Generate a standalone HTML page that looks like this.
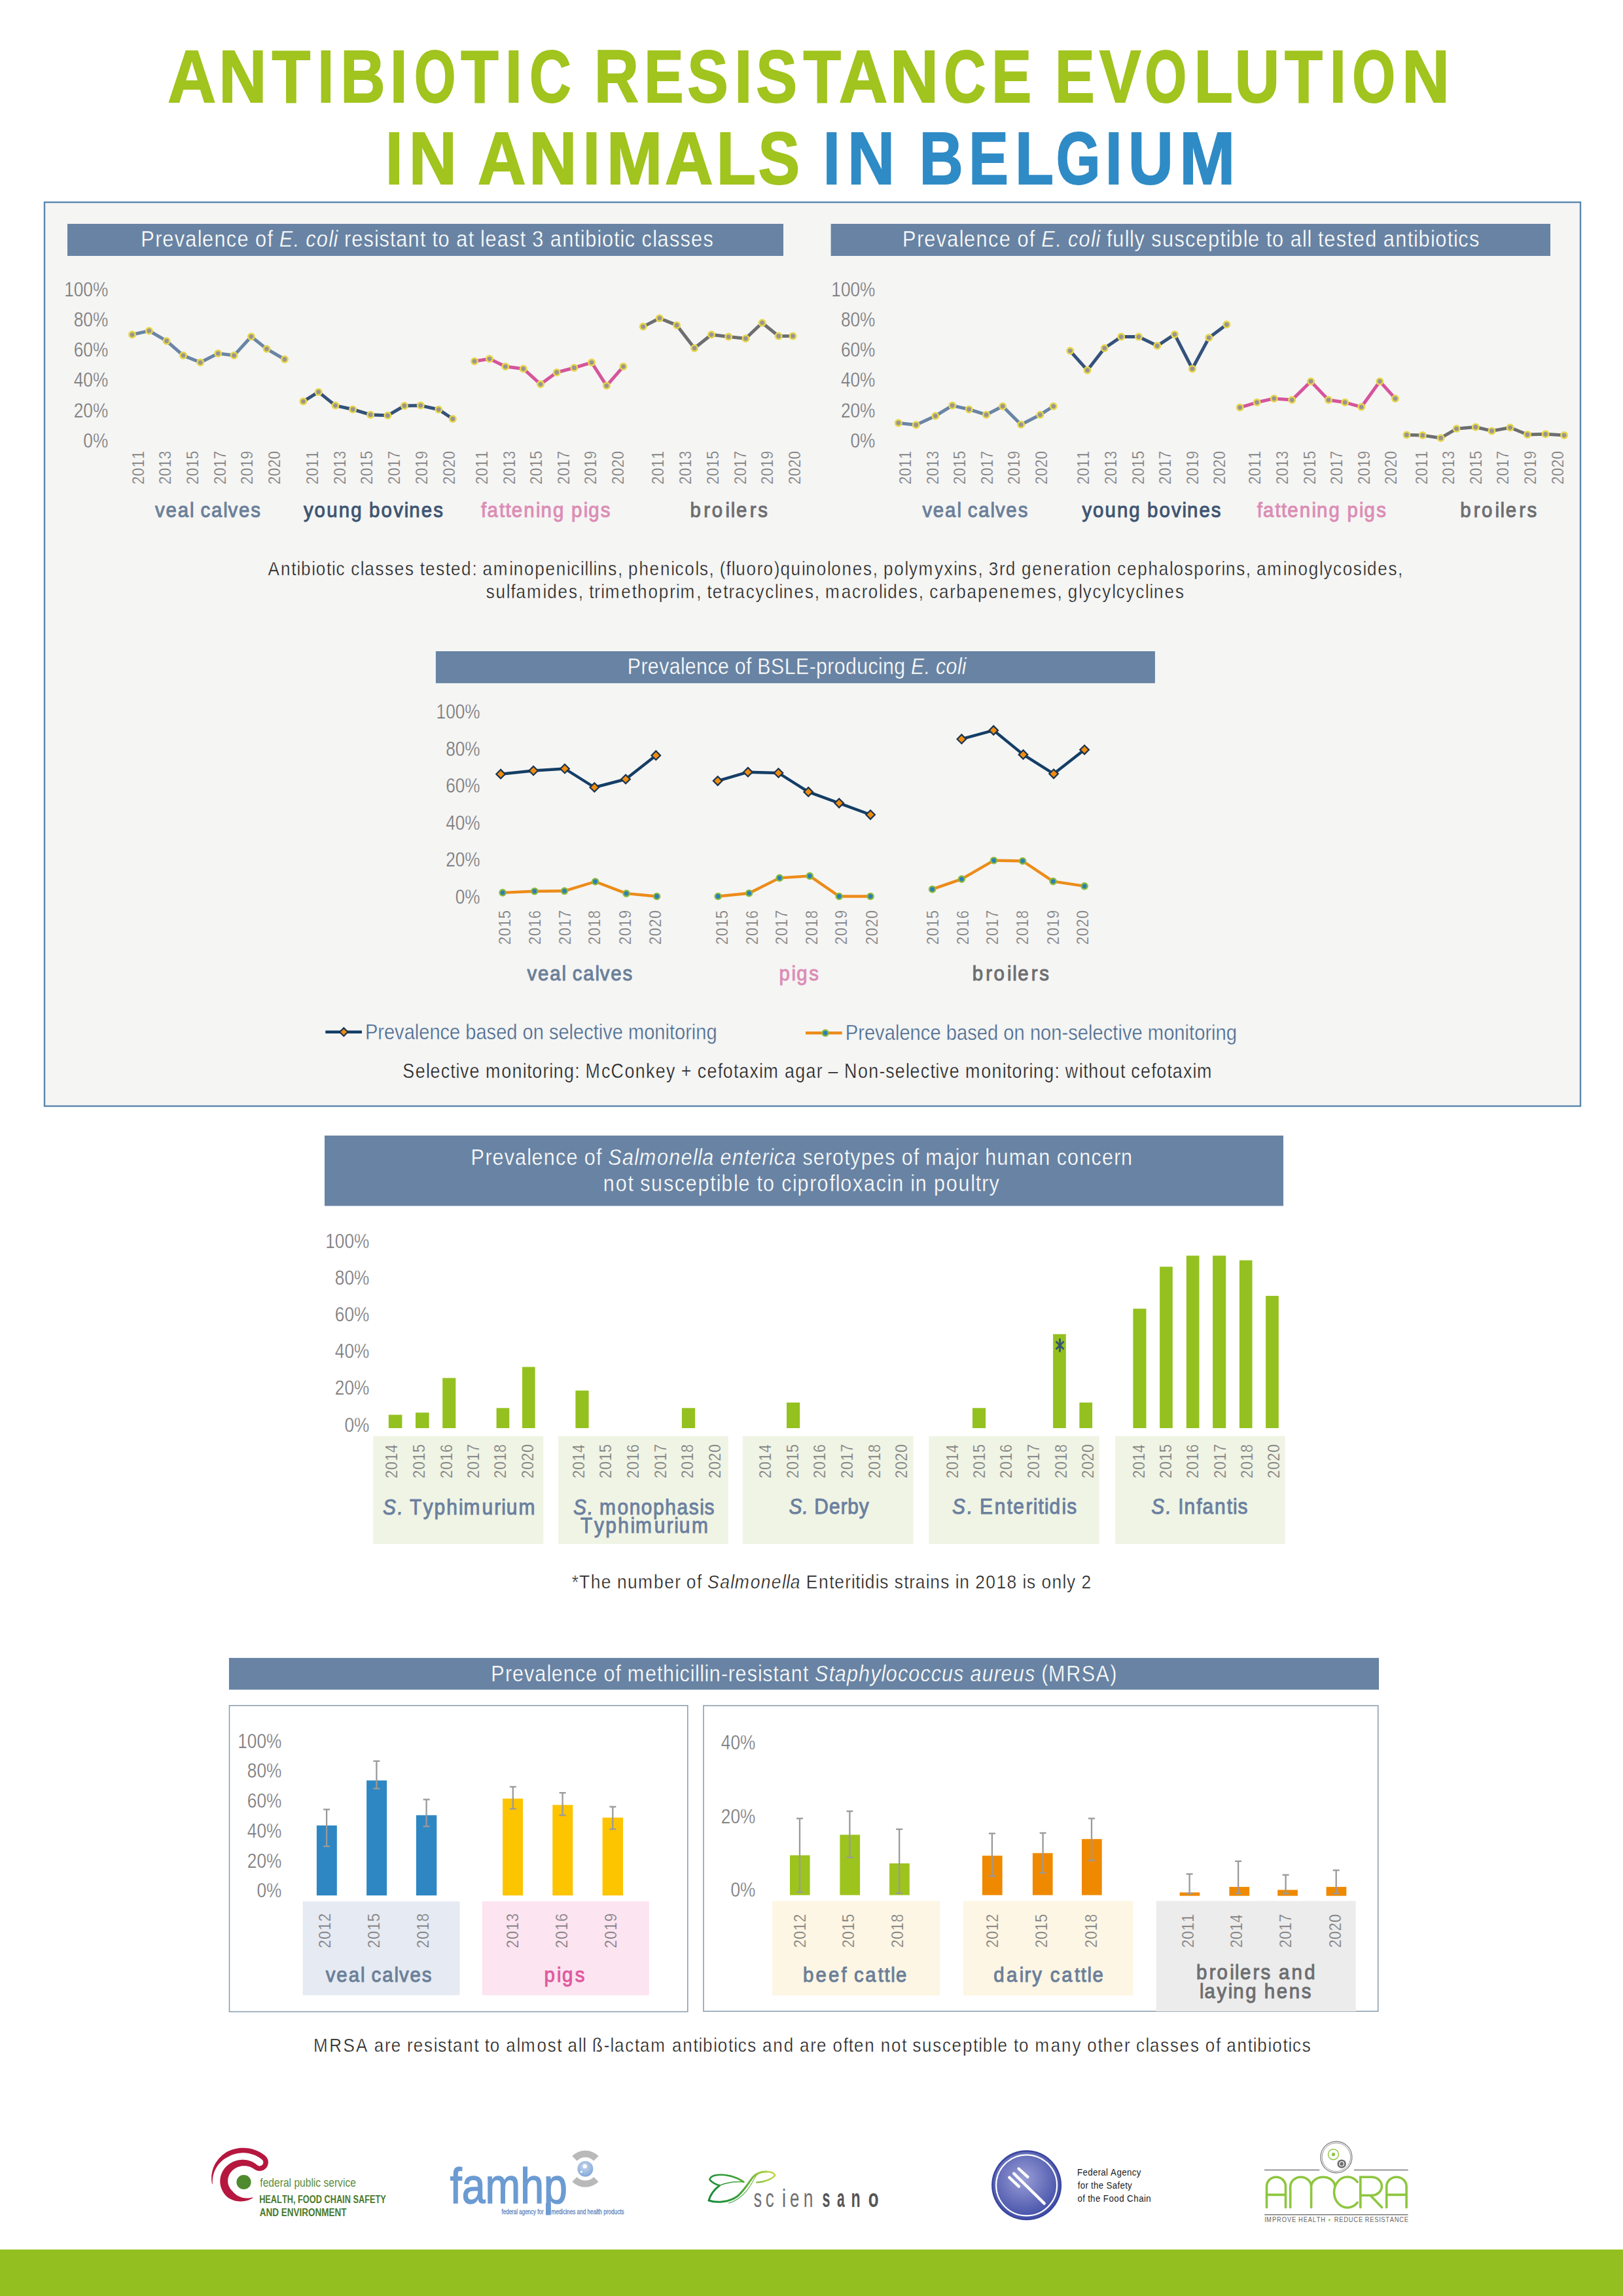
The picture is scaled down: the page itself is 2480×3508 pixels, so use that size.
<!DOCTYPE html>
<html><head><meta charset="utf-8"><title>Antibiotic resistance evolution in animals in Belgium</title>
<style>
html,body{margin:0;padding:0;background:#ffffff;}
body{width:2480px;height:3508px;overflow:hidden;}
svg{display:block;font-family:"Liberation Sans",sans-serif;}
</style></head><body>
<svg width="2480" height="3508" viewBox="0 0 2480 3508">
<text transform="scale(0.9052 1)" y="155.90" font-size="112.79" fill="#a1c41e" stroke="#a1c41e" stroke-width="2.00"><tspan font-weight="bold" x="283.19">A</tspan></text>
<text transform="scale(0.8988 1)" y="155.90" font-size="112.79" fill="#a1c41e" stroke="#a1c41e" stroke-width="2.00"><tspan font-weight="bold" x="371.84">N</tspan></text>
<text transform="scale(0.8537 1)" y="155.90" font-size="112.79" fill="#a1c41e" stroke="#a1c41e" stroke-width="2.00"><tspan font-weight="bold" x="486.74">T</tspan></text>
<text transform="scale(0.7879 1)" y="155.90" font-size="112.79" fill="#a1c41e" stroke="#a1c41e" stroke-width="2.00"><tspan font-weight="bold" x="616.05">I</tspan></text>
<text transform="scale(0.8388 1)" y="155.90" font-size="112.79" fill="#a1c41e" stroke="#a1c41e" stroke-width="2.00"><tspan font-weight="bold" x="620.12">B</tspan></text>
<text transform="scale(0.8617 1)" y="155.90" font-size="112.79" fill="#a1c41e" stroke="#a1c41e" stroke-width="2.00"><tspan font-weight="bold" x="691.30">I</tspan></text>
<text transform="scale(0.7222 1)" y="155.90" font-size="112.79" fill="#a1c41e" stroke="#a1c41e" stroke-width="2.00"><tspan font-weight="bold" x="876.41">O</tspan></text>
<text transform="scale(0.8341 1)" y="155.90" font-size="112.79" fill="#a1c41e" stroke="#a1c41e" stroke-width="2.00"><tspan font-weight="bold" x="844.31">T</tspan></text>
<text transform="scale(0.8186 1)" y="155.90" font-size="112.79" fill="#a1c41e" stroke="#a1c41e" stroke-width="2.00"><tspan font-weight="bold" x="943.07">I</tspan></text>
<text transform="scale(0.7824 1)" y="155.90" font-size="112.79" fill="#a1c41e" stroke="#a1c41e" stroke-width="2.00"><tspan font-weight="bold" x="1034.05">C</tspan></text>
<text transform="scale(0.8325 1)" y="155.90" font-size="112.79" fill="#a1c41e" stroke="#a1c41e" stroke-width="2.00"><tspan font-weight="bold" x="1090.78">R</tspan></text>
<text transform="scale(0.8012 1)" y="155.90" font-size="112.79" fill="#a1c41e" stroke="#a1c41e" stroke-width="2.00"><tspan font-weight="bold" x="1228.59">E</tspan></text>
<text transform="scale(0.8302 1)" y="155.90" font-size="112.79" fill="#a1c41e" stroke="#a1c41e" stroke-width="2.00"><tspan font-weight="bold" x="1265.14">S</tspan></text>
<text transform="scale(0.8617 1)" y="155.90" font-size="112.79" fill="#a1c41e" stroke="#a1c41e" stroke-width="2.00"><tspan font-weight="bold" x="1302.52">I</tspan></text>
<text transform="scale(0.8346 1)" y="155.90" font-size="112.79" fill="#a1c41e" stroke="#a1c41e" stroke-width="2.00"><tspan font-weight="bold" x="1384.20">S</tspan></text>
<text transform="scale(0.8341 1)" y="155.90" font-size="112.79" fill="#a1c41e" stroke="#a1c41e" stroke-width="2.00"><tspan font-weight="bold" x="1471.81">T</tspan></text>
<text transform="scale(0.9118 1)" y="155.90" font-size="112.79" fill="#a1c41e" stroke="#a1c41e" stroke-width="2.00"><tspan font-weight="bold" x="1405.99">A</tspan></text>
<text transform="scale(0.9094 1)" y="155.90" font-size="112.79" fill="#a1c41e" stroke="#a1c41e" stroke-width="2.00"><tspan font-weight="bold" x="1495.56">N</tspan></text>
<text transform="scale(0.7919 1)" y="155.90" font-size="112.79" fill="#a1c41e" stroke="#a1c41e" stroke-width="2.00"><tspan font-weight="bold" x="1820.90">C</tspan></text>
<text transform="scale(0.8091 1)" y="155.90" font-size="112.79" fill="#a1c41e" stroke="#a1c41e" stroke-width="2.00"><tspan font-weight="bold" x="1872.80">E</tspan></text>
<text transform="scale(0.8059 1)" y="155.90" font-size="112.79" fill="#a1c41e" stroke="#a1c41e" stroke-width="2.00"><tspan font-weight="bold" x="2000.40">E</tspan></text>
<text transform="scale(0.8427 1)" y="155.90" font-size="112.79" fill="#a1c41e" stroke="#a1c41e" stroke-width="2.00"><tspan font-weight="bold" x="1993.56">V</tspan></text>
<text transform="scale(0.7286 1)" y="155.90" font-size="112.79" fill="#a1c41e" stroke="#a1c41e" stroke-width="2.00"><tspan font-weight="bold" x="2400.95">O</tspan></text>
<text transform="scale(0.8604 1)" y="155.90" font-size="112.79" fill="#a1c41e" stroke="#a1c41e" stroke-width="2.00"><tspan font-weight="bold" x="2120.62">L</tspan></text>
<text transform="scale(0.8393 1)" y="155.90" font-size="112.79" fill="#a1c41e" stroke="#a1c41e" stroke-width="2.00"><tspan font-weight="bold" x="2247.99">U</tspan></text>
<text transform="scale(0.8416 1)" y="155.90" font-size="112.79" fill="#a1c41e" stroke="#a1c41e" stroke-width="2.00"><tspan font-weight="bold" x="2332.42">T</tspan></text>
<text transform="scale(0.7879 1)" y="155.90" font-size="112.79" fill="#a1c41e" stroke="#a1c41e" stroke-width="2.00"><tspan font-weight="bold" x="2578.98">I</tspan></text>
<text transform="scale(0.7503 1)" y="155.90" font-size="112.79" fill="#a1c41e" stroke="#a1c41e" stroke-width="2.00"><tspan font-weight="bold" x="2753.77">O</tspan></text>
<text transform="scale(0.8928 1)" y="155.90" font-size="112.79" fill="#a1c41e" stroke="#a1c41e" stroke-width="2.00"><tspan font-weight="bold" x="2399.39">N</tspan></text>
<text transform="scale(0.8494 1)" y="280.80" font-size="112.79" fill="#a1c41e" stroke="#a1c41e" stroke-width="2.00"><tspan font-weight="bold" x="693.30">I</tspan></text>
<text transform="scale(0.8988 1)" y="280.80" font-size="112.79" fill="#a1c41e" stroke="#a1c41e" stroke-width="2.00"><tspan font-weight="bold" x="695.04">N</tspan></text>
<text transform="scale(0.9013 1)" y="280.80" font-size="112.79" fill="#a1c41e" stroke="#a1c41e" stroke-width="2.00"><tspan font-weight="bold" x="810.05">A</tspan></text>
<text transform="scale(0.8988 1)" y="280.80" font-size="112.79" fill="#a1c41e" stroke="#a1c41e" stroke-width="2.00"><tspan font-weight="bold" x="899.30">N</tspan></text>
<text transform="scale(0.8309 1)" y="280.80" font-size="112.79" fill="#a1c41e" stroke="#a1c41e" stroke-width="2.00"><tspan font-weight="bold" x="1071.96">I</tspan></text>
<text transform="scale(0.9066 1)" y="280.80" font-size="112.79" fill="#a1c41e" stroke="#a1c41e" stroke-width="2.00"><tspan font-weight="bold" x="1022.45">M</tspan></text>
<text transform="scale(0.9013 1)" y="280.80" font-size="112.79" fill="#a1c41e" stroke="#a1c41e" stroke-width="2.00"><tspan font-weight="bold" x="1127.15">A</tspan></text>
<text transform="scale(0.8725 1)" y="280.80" font-size="112.79" fill="#a1c41e" stroke="#a1c41e" stroke-width="2.00"><tspan font-weight="bold" x="1254.86">L</tspan></text>
<text transform="scale(0.8450 1)" y="280.80" font-size="112.79" fill="#a1c41e" stroke="#a1c41e" stroke-width="2.00"><tspan font-weight="bold" x="1371.10">S</tspan></text>
<text transform="scale(0.8309 1)" y="280.80" font-size="112.79" fill="#2f8bc5" stroke="#2f8bc5" stroke-width="2.00"><tspan font-weight="bold" x="1513.75">I</tspan></text>
<text transform="scale(0.8868 1)" y="280.80" font-size="112.79" fill="#2f8bc5" stroke="#2f8bc5" stroke-width="2.00"><tspan font-weight="bold" x="1460.38">N</tspan></text>
<text transform="scale(0.8214 1)" y="280.80" font-size="112.79" fill="#2f8bc5" stroke="#2f8bc5" stroke-width="2.00"><tspan font-weight="bold" x="1710.06">B</tspan></text>
<text transform="scale(0.8059 1)" y="280.80" font-size="112.79" fill="#2f8bc5" stroke="#2f8bc5" stroke-width="2.00"><tspan font-weight="bold" x="1836.87">E</tspan></text>
<text transform="scale(0.8569 1)" y="280.80" font-size="112.79" fill="#2f8bc5" stroke="#2f8bc5" stroke-width="2.00"><tspan font-weight="bold" x="1810.15">L</tspan></text>
<text transform="scale(0.7712 1)" y="280.80" font-size="112.79" fill="#2f8bc5" stroke="#2f8bc5" stroke-width="2.00"><tspan font-weight="bold" x="2092.40">G</tspan></text>
<text transform="scale(0.8186 1)" y="280.80" font-size="112.79" fill="#2f8bc5" stroke="#2f8bc5" stroke-width="2.00"><tspan font-weight="bold" x="2063.24">I</tspan></text>
<text transform="scale(0.8437 1)" y="280.80" font-size="112.79" fill="#2f8bc5" stroke="#2f8bc5" stroke-width="2.00"><tspan font-weight="bold" x="2043.33">U</tspan></text>
<text transform="scale(0.9053 1)" y="280.80" font-size="112.79" fill="#2f8bc5" stroke="#2f8bc5" stroke-width="2.00"><tspan font-weight="bold" x="1990.71">M</tspan></text>
<rect x="68" y="309" width="2347" height="1381" fill="#f5f5f4" stroke="#5a87ae" stroke-width="2.4"/>
<rect x="103.00" y="342.00" width="1094.00" height="49.00" fill="#6883a3"/>
<text transform="scale(0.8800 1)" y="376.90" font-size="34.90" fill="#ffffff" stroke="#6883a3" stroke-width="0.40"><tspan x="244.52 269.61 282.14 303.06 321.87 342.79 351.15 372.07 392.99 411.80 432.72 443.17 464.09 474.54">Prevalence of </tspan><tspan font-style="italic" x="484.99 510.08 520.54 530.99 549.80 570.72 579.07">E. coli</tspan><tspan x="587.43 597.88 610.41 631.33 650.14 658.50 677.30 687.76 708.68 729.60 740.05 750.50 760.95 781.87 792.32 813.24 823.69 834.15 842.50 863.42 884.34 903.15 913.60 924.06 944.98 955.43 976.35 997.27 1007.72 1016.08 1037.00 1045.36 1066.28 1076.73 1085.09 1103.89 1114.35 1133.15 1141.51 1162.43 1181.24 1200.05 1220.97"> resistant to at least 3 antibiotic classes</tspan></text>
<rect x="1269.60" y="342.00" width="1099.40" height="49.00" fill="#6883a3"/>
<text transform="scale(0.8800 1)" y="376.90" font-size="34.90" fill="#ffffff" stroke="#6883a3" stroke-width="0.40"><tspan x="1567.02 1592.20 1604.77 1625.76 1644.64 1665.63 1674.02 1695.01 1716.01 1734.88 1755.87 1766.36 1787.35 1797.84">Prevalence of </tspan><tspan font-style="italic" x="1808.33 1833.51 1843.99 1854.48 1873.36 1894.35 1902.74">E. coli</tspan><tspan x="1911.12 1921.61 1932.10 1953.09 1961.48 1969.86 1988.74 1999.22 2018.10 2039.09 2057.97 2076.84 2097.83 2118.83 2129.31 2137.70 2158.69 2167.08 2188.07 2198.56 2209.05 2230.04 2240.53 2261.52 2269.91 2278.30 2288.78 2299.27 2320.27 2339.14 2349.63 2370.62 2391.61 2402.10 2423.10 2444.09 2454.58 2462.96 2483.96 2492.34 2513.34 2523.82 2532.21 2551.08"> fully susceptible to all tested antibiotics</tspan></text>
<text transform="scale(0.8600 1)" y="452.72" font-size="30.50" fill="#737375" stroke="#f5f5f4" stroke-width="0.40"><tspan x="114.13 131.09 148.05 165.01">100%</tspan></text>
<text transform="scale(0.8600 1)" y="498.92" font-size="30.50" fill="#737375" stroke="#f5f5f4" stroke-width="0.40"><tspan x="131.09 148.05 165.01">80%</tspan></text>
<text transform="scale(0.8600 1)" y="545.12" font-size="30.50" fill="#737375" stroke="#f5f5f4" stroke-width="0.40"><tspan x="131.09 148.05 165.01">60%</tspan></text>
<text transform="scale(0.8600 1)" y="591.32" font-size="30.50" fill="#737375" stroke="#f5f5f4" stroke-width="0.40"><tspan x="131.09 148.05 165.01">40%</tspan></text>
<text transform="scale(0.8600 1)" y="637.52" font-size="30.50" fill="#737375" stroke="#f5f5f4" stroke-width="0.40"><tspan x="131.09 148.05 165.01">20%</tspan></text>
<text transform="scale(0.8600 1)" y="683.72" font-size="30.50" fill="#737375" stroke="#f5f5f4" stroke-width="0.40"><tspan x="148.05 165.01">0%</tspan></text>
<text transform="scale(0.8600 1)" y="452.72" font-size="30.50" fill="#737375" stroke="#f5f5f4" stroke-width="0.40"><tspan x="1477.15 1494.11 1511.07 1528.04">100%</tspan></text>
<text transform="scale(0.8600 1)" y="498.92" font-size="30.50" fill="#737375" stroke="#f5f5f4" stroke-width="0.40"><tspan x="1494.11 1511.07 1528.04">80%</tspan></text>
<text transform="scale(0.8600 1)" y="545.12" font-size="30.50" fill="#737375" stroke="#f5f5f4" stroke-width="0.40"><tspan x="1494.11 1511.07 1528.04">60%</tspan></text>
<text transform="scale(0.8600 1)" y="591.32" font-size="30.50" fill="#737375" stroke="#f5f5f4" stroke-width="0.40"><tspan x="1494.11 1511.07 1528.04">40%</tspan></text>
<text transform="scale(0.8600 1)" y="637.52" font-size="30.50" fill="#737375" stroke="#f5f5f4" stroke-width="0.40"><tspan x="1494.11 1511.07 1528.04">20%</tspan></text>
<text transform="scale(0.8600 1)" y="683.72" font-size="30.50" fill="#737375" stroke="#f5f5f4" stroke-width="0.40"><tspan x="1511.07 1528.04">0%</tspan></text>
<text transform="translate(220.03 739.20) rotate(-90) scale(0.8800 1)" y="0.00" font-size="25.60" fill="#737375" stroke="#f5f5f4" stroke-width="0.40"><tspan x="-1.29 13.45 28.19 42.92">2011</tspan></text>
<text transform="translate(261.43 739.20) rotate(-90) scale(0.8800 1)" y="0.00" font-size="25.60" fill="#737375" stroke="#f5f5f4" stroke-width="0.40"><tspan x="-1.29 13.41 28.10 42.80">2013</tspan></text>
<text transform="translate(303.23 739.20) rotate(-90) scale(0.8800 1)" y="0.00" font-size="25.60" fill="#737375" stroke="#f5f5f4" stroke-width="0.40"><tspan x="-1.29 13.39 28.07 42.75">2015</tspan></text>
<text transform="translate(345.03 739.20) rotate(-90) scale(0.8800 1)" y="0.00" font-size="25.60" fill="#737375" stroke="#f5f5f4" stroke-width="0.40"><tspan x="-1.29 13.46 28.21 42.96">2017</tspan></text>
<text transform="translate(386.43 739.20) rotate(-90) scale(0.8800 1)" y="0.00" font-size="25.60" fill="#737375" stroke="#f5f5f4" stroke-width="0.40"><tspan x="-1.29 13.44 28.16 42.88">2019</tspan></text>
<text transform="translate(428.23 739.20) rotate(-90) scale(0.8800 1)" y="0.00" font-size="25.60" fill="#737375" stroke="#f5f5f4" stroke-width="0.40"><tspan x="-1.29 13.37 28.02 42.67">2020</tspan></text>
<text transform="translate(486.23 739.20) rotate(-90) scale(0.8800 1)" y="0.00" font-size="25.60" fill="#737375" stroke="#f5f5f4" stroke-width="0.40"><tspan x="-1.29 13.45 28.19 42.92">2011</tspan></text>
<text transform="translate(528.03 739.20) rotate(-90) scale(0.8800 1)" y="0.00" font-size="25.60" fill="#737375" stroke="#f5f5f4" stroke-width="0.40"><tspan x="-1.29 13.41 28.10 42.80">2013</tspan></text>
<text transform="translate(569.43 739.20) rotate(-90) scale(0.8800 1)" y="0.00" font-size="25.60" fill="#737375" stroke="#f5f5f4" stroke-width="0.40"><tspan x="-1.29 13.39 28.07 42.75">2015</tspan></text>
<text transform="translate(611.23 739.20) rotate(-90) scale(0.8800 1)" y="0.00" font-size="25.60" fill="#737375" stroke="#f5f5f4" stroke-width="0.40"><tspan x="-1.29 13.46 28.21 42.96">2017</tspan></text>
<text transform="translate(652.63 739.20) rotate(-90) scale(0.8800 1)" y="0.00" font-size="25.60" fill="#737375" stroke="#f5f5f4" stroke-width="0.40"><tspan x="-1.29 13.44 28.16 42.88">2019</tspan></text>
<text transform="translate(695.03 739.20) rotate(-90) scale(0.8800 1)" y="0.00" font-size="25.60" fill="#737375" stroke="#f5f5f4" stroke-width="0.40"><tspan x="-1.29 13.37 28.02 42.67">2020</tspan></text>
<text transform="translate(744.93 739.20) rotate(-90) scale(0.8800 1)" y="0.00" font-size="25.60" fill="#737375" stroke="#f5f5f4" stroke-width="0.40"><tspan x="-1.29 13.45 28.19 42.92">2011</tspan></text>
<text transform="translate(786.73 739.20) rotate(-90) scale(0.8800 1)" y="0.00" font-size="25.60" fill="#737375" stroke="#f5f5f4" stroke-width="0.40"><tspan x="-1.29 13.41 28.10 42.80">2013</tspan></text>
<text transform="translate(828.13 739.20) rotate(-90) scale(0.8800 1)" y="0.00" font-size="25.60" fill="#737375" stroke="#f5f5f4" stroke-width="0.40"><tspan x="-1.29 13.39 28.07 42.75">2015</tspan></text>
<text transform="translate(869.93 739.20) rotate(-90) scale(0.8800 1)" y="0.00" font-size="25.60" fill="#737375" stroke="#f5f5f4" stroke-width="0.40"><tspan x="-1.29 13.46 28.21 42.96">2017</tspan></text>
<text transform="translate(911.33 739.20) rotate(-90) scale(0.8800 1)" y="0.00" font-size="25.60" fill="#737375" stroke="#f5f5f4" stroke-width="0.40"><tspan x="-1.29 13.44 28.16 42.88">2019</tspan></text>
<text transform="translate(953.13 739.20) rotate(-90) scale(0.8800 1)" y="0.00" font-size="25.60" fill="#737375" stroke="#f5f5f4" stroke-width="0.40"><tspan x="-1.29 13.37 28.02 42.67">2020</tspan></text>
<text transform="translate(1013.73 739.20) rotate(-90) scale(0.8800 1)" y="0.00" font-size="25.60" fill="#737375" stroke="#f5f5f4" stroke-width="0.40"><tspan x="-1.29 13.45 28.19 42.92">2011</tspan></text>
<text transform="translate(1055.53 739.20) rotate(-90) scale(0.8800 1)" y="0.00" font-size="25.60" fill="#737375" stroke="#f5f5f4" stroke-width="0.40"><tspan x="-1.29 13.41 28.10 42.80">2013</tspan></text>
<text transform="translate(1098.03 739.20) rotate(-90) scale(0.8800 1)" y="0.00" font-size="25.60" fill="#737375" stroke="#f5f5f4" stroke-width="0.40"><tspan x="-1.29 13.39 28.07 42.75">2015</tspan></text>
<text transform="translate(1139.73 739.20) rotate(-90) scale(0.8800 1)" y="0.00" font-size="25.60" fill="#737375" stroke="#f5f5f4" stroke-width="0.40"><tspan x="-1.29 13.46 28.21 42.96">2017</tspan></text>
<text transform="translate(1181.13 739.20) rotate(-90) scale(0.8800 1)" y="0.00" font-size="25.60" fill="#737375" stroke="#f5f5f4" stroke-width="0.40"><tspan x="-1.29 13.44 28.16 42.88">2019</tspan></text>
<text transform="translate(1222.93 739.20) rotate(-90) scale(0.8800 1)" y="0.00" font-size="25.60" fill="#737375" stroke="#f5f5f4" stroke-width="0.40"><tspan x="-1.29 13.37 28.02 42.67">2020</tspan></text>
<text transform="translate(1391.93 739.20) rotate(-90) scale(0.8800 1)" y="0.00" font-size="25.60" fill="#737375" stroke="#f5f5f4" stroke-width="0.40"><tspan x="-1.29 13.45 28.19 42.92">2011</tspan></text>
<text transform="translate(1433.73 739.20) rotate(-90) scale(0.8800 1)" y="0.00" font-size="25.60" fill="#737375" stroke="#f5f5f4" stroke-width="0.40"><tspan x="-1.29 13.41 28.10 42.80">2013</tspan></text>
<text transform="translate(1475.13 739.20) rotate(-90) scale(0.8800 1)" y="0.00" font-size="25.60" fill="#737375" stroke="#f5f5f4" stroke-width="0.40"><tspan x="-1.29 13.39 28.07 42.75">2015</tspan></text>
<text transform="translate(1516.53 739.20) rotate(-90) scale(0.8800 1)" y="0.00" font-size="25.60" fill="#737375" stroke="#f5f5f4" stroke-width="0.40"><tspan x="-1.29 13.46 28.21 42.96">2017</tspan></text>
<text transform="translate(1558.33 739.20) rotate(-90) scale(0.8800 1)" y="0.00" font-size="25.60" fill="#737375" stroke="#f5f5f4" stroke-width="0.40"><tspan x="-1.29 13.44 28.16 42.88">2019</tspan></text>
<text transform="translate(1599.73 739.20) rotate(-90) scale(0.8800 1)" y="0.00" font-size="25.60" fill="#737375" stroke="#f5f5f4" stroke-width="0.40"><tspan x="-1.29 13.37 28.02 42.67">2020</tspan></text>
<text transform="translate(1664.43 739.20) rotate(-90) scale(0.8800 1)" y="0.00" font-size="25.60" fill="#737375" stroke="#f5f5f4" stroke-width="0.40"><tspan x="-1.29 13.45 28.19 42.92">2011</tspan></text>
<text transform="translate(1706.13 739.20) rotate(-90) scale(0.8800 1)" y="0.00" font-size="25.60" fill="#737375" stroke="#f5f5f4" stroke-width="0.40"><tspan x="-1.29 13.41 28.10 42.80">2013</tspan></text>
<text transform="translate(1747.53 739.20) rotate(-90) scale(0.8800 1)" y="0.00" font-size="25.60" fill="#737375" stroke="#f5f5f4" stroke-width="0.40"><tspan x="-1.29 13.39 28.07 42.75">2015</tspan></text>
<text transform="translate(1789.33 739.20) rotate(-90) scale(0.8800 1)" y="0.00" font-size="25.60" fill="#737375" stroke="#f5f5f4" stroke-width="0.40"><tspan x="-1.29 13.46 28.21 42.96">2017</tspan></text>
<text transform="translate(1830.73 739.20) rotate(-90) scale(0.8800 1)" y="0.00" font-size="25.60" fill="#737375" stroke="#f5f5f4" stroke-width="0.40"><tspan x="-1.29 13.44 28.16 42.88">2019</tspan></text>
<text transform="translate(1871.73 739.20) rotate(-90) scale(0.8800 1)" y="0.00" font-size="25.60" fill="#737375" stroke="#f5f5f4" stroke-width="0.40"><tspan x="-1.29 13.37 28.02 42.67">2020</tspan></text>
<text transform="translate(1925.73 739.20) rotate(-90) scale(0.8800 1)" y="0.00" font-size="25.60" fill="#737375" stroke="#f5f5f4" stroke-width="0.40"><tspan x="-1.29 13.45 28.19 42.92">2011</tspan></text>
<text transform="translate(1967.83 739.20) rotate(-90) scale(0.8800 1)" y="0.00" font-size="25.60" fill="#737375" stroke="#f5f5f4" stroke-width="0.40"><tspan x="-1.29 13.41 28.10 42.80">2013</tspan></text>
<text transform="translate(2009.63 739.20) rotate(-90) scale(0.8800 1)" y="0.00" font-size="25.60" fill="#737375" stroke="#f5f5f4" stroke-width="0.40"><tspan x="-1.29 13.39 28.07 42.75">2015</tspan></text>
<text transform="translate(2051.03 739.20) rotate(-90) scale(0.8800 1)" y="0.00" font-size="25.60" fill="#737375" stroke="#f5f5f4" stroke-width="0.40"><tspan x="-1.29 13.46 28.21 42.96">2017</tspan></text>
<text transform="translate(2092.83 739.20) rotate(-90) scale(0.8800 1)" y="0.00" font-size="25.60" fill="#737375" stroke="#f5f5f4" stroke-width="0.40"><tspan x="-1.29 13.44 28.16 42.88">2019</tspan></text>
<text transform="translate(2134.23 739.20) rotate(-90) scale(0.8800 1)" y="0.00" font-size="25.60" fill="#737375" stroke="#f5f5f4" stroke-width="0.40"><tspan x="-1.29 13.37 28.02 42.67">2020</tspan></text>
<text transform="translate(2180.83 739.20) rotate(-90) scale(0.8800 1)" y="0.00" font-size="25.60" fill="#737375" stroke="#f5f5f4" stroke-width="0.40"><tspan x="-1.29 13.45 28.19 42.92">2011</tspan></text>
<text transform="translate(2222.23 739.20) rotate(-90) scale(0.8800 1)" y="0.00" font-size="25.60" fill="#737375" stroke="#f5f5f4" stroke-width="0.40"><tspan x="-1.29 13.41 28.10 42.80">2013</tspan></text>
<text transform="translate(2263.63 739.20) rotate(-90) scale(0.8800 1)" y="0.00" font-size="25.60" fill="#737375" stroke="#f5f5f4" stroke-width="0.40"><tspan x="-1.29 13.39 28.07 42.75">2015</tspan></text>
<text transform="translate(2305.43 739.20) rotate(-90) scale(0.8800 1)" y="0.00" font-size="25.60" fill="#737375" stroke="#f5f5f4" stroke-width="0.40"><tspan x="-1.29 13.46 28.21 42.96">2017</tspan></text>
<text transform="translate(2347.13 739.20) rotate(-90) scale(0.8800 1)" y="0.00" font-size="25.60" fill="#737375" stroke="#f5f5f4" stroke-width="0.40"><tspan x="-1.29 13.44 28.16 42.88">2019</tspan></text>
<text transform="translate(2388.53 739.20) rotate(-90) scale(0.8800 1)" y="0.00" font-size="25.60" fill="#737375" stroke="#f5f5f4" stroke-width="0.40"><tspan x="-1.29 13.37 28.02 42.67">2020</tspan></text>
<polyline points="202.00,511.30 227.90,505.40 254.50,520.90 280.00,543.10 306.20,553.80 333.20,540.10 357.60,543.10 383.90,514.30 407.50,533.10 434.90,549.00" fill="none" stroke="#6a85a5" stroke-width="5.00" stroke-linejoin="round" stroke-linecap="round"/>
<circle cx="202.00" cy="511.30" r="4.70" fill="#9a9592" stroke="#e7d74a" stroke-width="2.60"/>
<circle cx="227.90" cy="505.40" r="4.70" fill="#9a9592" stroke="#e7d74a" stroke-width="2.60"/>
<circle cx="254.50" cy="520.90" r="4.70" fill="#9a9592" stroke="#e7d74a" stroke-width="2.60"/>
<circle cx="280.00" cy="543.10" r="4.70" fill="#9a9592" stroke="#e7d74a" stroke-width="2.60"/>
<circle cx="306.20" cy="553.80" r="4.70" fill="#9a9592" stroke="#e7d74a" stroke-width="2.60"/>
<circle cx="333.20" cy="540.10" r="4.70" fill="#9a9592" stroke="#e7d74a" stroke-width="2.60"/>
<circle cx="357.60" cy="543.10" r="4.70" fill="#9a9592" stroke="#e7d74a" stroke-width="2.60"/>
<circle cx="383.90" cy="514.30" r="4.70" fill="#9a9592" stroke="#e7d74a" stroke-width="2.60"/>
<circle cx="407.50" cy="533.10" r="4.70" fill="#9a9592" stroke="#e7d74a" stroke-width="2.60"/>
<circle cx="434.90" cy="549.00" r="4.70" fill="#9a9592" stroke="#e7d74a" stroke-width="2.60"/>
<polyline points="463.40,613.30 486.70,598.90 512.50,619.60 539.10,625.50 566.10,633.70 592.40,634.80 617.90,620.00 642.70,619.60 670.30,625.70 691.80,640.00" fill="none" stroke="#34527a" stroke-width="5.00" stroke-linejoin="round" stroke-linecap="round"/>
<circle cx="463.40" cy="613.30" r="4.70" fill="#9a9592" stroke="#e7d74a" stroke-width="2.60"/>
<circle cx="486.70" cy="598.90" r="4.70" fill="#9a9592" stroke="#e7d74a" stroke-width="2.60"/>
<circle cx="512.50" cy="619.60" r="4.70" fill="#9a9592" stroke="#e7d74a" stroke-width="2.60"/>
<circle cx="539.10" cy="625.50" r="4.70" fill="#9a9592" stroke="#e7d74a" stroke-width="2.60"/>
<circle cx="566.10" cy="633.70" r="4.70" fill="#9a9592" stroke="#e7d74a" stroke-width="2.60"/>
<circle cx="592.40" cy="634.80" r="4.70" fill="#9a9592" stroke="#e7d74a" stroke-width="2.60"/>
<circle cx="617.90" cy="620.00" r="4.70" fill="#9a9592" stroke="#e7d74a" stroke-width="2.60"/>
<circle cx="642.70" cy="619.60" r="4.70" fill="#9a9592" stroke="#e7d74a" stroke-width="2.60"/>
<circle cx="670.30" cy="625.70" r="4.70" fill="#9a9592" stroke="#e7d74a" stroke-width="2.60"/>
<circle cx="691.80" cy="640.00" r="4.70" fill="#9a9592" stroke="#e7d74a" stroke-width="2.60"/>
<polyline points="725.00,552.00 748.00,548.30 772.30,560.10 799.70,563.40 826.00,587.10 850.70,569.00 877.30,562.00 904.00,553.80 926.90,589.30 952.40,560.10" fill="none" stroke="#d5559b" stroke-width="5.00" stroke-linejoin="round" stroke-linecap="round"/>
<circle cx="725.00" cy="552.00" r="4.70" fill="#9a9592" stroke="#e7d74a" stroke-width="2.60"/>
<circle cx="748.00" cy="548.30" r="4.70" fill="#9a9592" stroke="#e7d74a" stroke-width="2.60"/>
<circle cx="772.30" cy="560.10" r="4.70" fill="#9a9592" stroke="#e7d74a" stroke-width="2.60"/>
<circle cx="799.70" cy="563.40" r="4.70" fill="#9a9592" stroke="#e7d74a" stroke-width="2.60"/>
<circle cx="826.00" cy="587.10" r="4.70" fill="#9a9592" stroke="#e7d74a" stroke-width="2.60"/>
<circle cx="850.70" cy="569.00" r="4.70" fill="#9a9592" stroke="#e7d74a" stroke-width="2.60"/>
<circle cx="877.30" cy="562.00" r="4.70" fill="#9a9592" stroke="#e7d74a" stroke-width="2.60"/>
<circle cx="904.00" cy="553.80" r="4.70" fill="#9a9592" stroke="#e7d74a" stroke-width="2.60"/>
<circle cx="926.90" cy="589.30" r="4.70" fill="#9a9592" stroke="#e7d74a" stroke-width="2.60"/>
<circle cx="952.40" cy="560.10" r="4.70" fill="#9a9592" stroke="#e7d74a" stroke-width="2.60"/>
<polyline points="982.70,499.10 1007.80,486.20 1034.10,496.90 1061.10,532.00 1087.00,511.30 1113.20,514.60 1139.40,517.20 1164.60,493.20 1189.70,513.50 1211.50,513.50" fill="none" stroke="#6d6e70" stroke-width="5.00" stroke-linejoin="round" stroke-linecap="round"/>
<circle cx="982.70" cy="499.10" r="4.70" fill="#9a9592" stroke="#e7d74a" stroke-width="2.60"/>
<circle cx="1007.80" cy="486.20" r="4.70" fill="#9a9592" stroke="#e7d74a" stroke-width="2.60"/>
<circle cx="1034.10" cy="496.90" r="4.70" fill="#9a9592" stroke="#e7d74a" stroke-width="2.60"/>
<circle cx="1061.10" cy="532.00" r="4.70" fill="#9a9592" stroke="#e7d74a" stroke-width="2.60"/>
<circle cx="1087.00" cy="511.30" r="4.70" fill="#9a9592" stroke="#e7d74a" stroke-width="2.60"/>
<circle cx="1113.20" cy="514.60" r="4.70" fill="#9a9592" stroke="#e7d74a" stroke-width="2.60"/>
<circle cx="1139.40" cy="517.20" r="4.70" fill="#9a9592" stroke="#e7d74a" stroke-width="2.60"/>
<circle cx="1164.60" cy="493.20" r="4.70" fill="#9a9592" stroke="#e7d74a" stroke-width="2.60"/>
<circle cx="1189.70" cy="513.50" r="4.70" fill="#9a9592" stroke="#e7d74a" stroke-width="2.60"/>
<circle cx="1211.50" cy="513.50" r="4.70" fill="#9a9592" stroke="#e7d74a" stroke-width="2.60"/>
<polyline points="1372.80,646.20 1399.70,649.20 1429.30,635.50 1455.20,619.60 1480.70,625.50 1507.00,633.70 1532.10,620.70 1560.20,648.80 1589.40,633.70 1609.70,620.70" fill="none" stroke="#6a85a5" stroke-width="5.00" stroke-linejoin="round" stroke-linecap="round"/>
<circle cx="1372.80" cy="646.20" r="4.70" fill="#9a9592" stroke="#e7d74a" stroke-width="2.60"/>
<circle cx="1399.70" cy="649.20" r="4.70" fill="#9a9592" stroke="#e7d74a" stroke-width="2.60"/>
<circle cx="1429.30" cy="635.50" r="4.70" fill="#9a9592" stroke="#e7d74a" stroke-width="2.60"/>
<circle cx="1455.20" cy="619.60" r="4.70" fill="#9a9592" stroke="#e7d74a" stroke-width="2.60"/>
<circle cx="1480.70" cy="625.50" r="4.70" fill="#9a9592" stroke="#e7d74a" stroke-width="2.60"/>
<circle cx="1507.00" cy="633.70" r="4.70" fill="#9a9592" stroke="#e7d74a" stroke-width="2.60"/>
<circle cx="1532.10" cy="620.70" r="4.70" fill="#9a9592" stroke="#e7d74a" stroke-width="2.60"/>
<circle cx="1560.20" cy="648.80" r="4.70" fill="#9a9592" stroke="#e7d74a" stroke-width="2.60"/>
<circle cx="1589.40" cy="633.70" r="4.70" fill="#9a9592" stroke="#e7d74a" stroke-width="2.60"/>
<circle cx="1609.70" cy="620.70" r="4.70" fill="#9a9592" stroke="#e7d74a" stroke-width="2.60"/>
<polyline points="1635.20,536.10 1661.50,565.70 1687.70,532.00 1713.20,514.60 1739.90,514.60 1768.30,528.30 1794.90,510.90 1821.90,563.40 1847.30,516.10 1874.40,495.80" fill="none" stroke="#34527a" stroke-width="5.00" stroke-linejoin="round" stroke-linecap="round"/>
<circle cx="1635.20" cy="536.10" r="4.70" fill="#9a9592" stroke="#e7d74a" stroke-width="2.60"/>
<circle cx="1661.50" cy="565.70" r="4.70" fill="#9a9592" stroke="#e7d74a" stroke-width="2.60"/>
<circle cx="1687.70" cy="532.00" r="4.70" fill="#9a9592" stroke="#e7d74a" stroke-width="2.60"/>
<circle cx="1713.20" cy="514.60" r="4.70" fill="#9a9592" stroke="#e7d74a" stroke-width="2.60"/>
<circle cx="1739.90" cy="514.60" r="4.70" fill="#9a9592" stroke="#e7d74a" stroke-width="2.60"/>
<circle cx="1768.30" cy="528.30" r="4.70" fill="#9a9592" stroke="#e7d74a" stroke-width="2.60"/>
<circle cx="1794.90" cy="510.90" r="4.70" fill="#9a9592" stroke="#e7d74a" stroke-width="2.60"/>
<circle cx="1821.90" cy="563.40" r="4.70" fill="#9a9592" stroke="#e7d74a" stroke-width="2.60"/>
<circle cx="1847.30" cy="516.10" r="4.70" fill="#9a9592" stroke="#e7d74a" stroke-width="2.60"/>
<circle cx="1874.40" cy="495.80" r="4.70" fill="#9a9592" stroke="#e7d74a" stroke-width="2.60"/>
<polyline points="1894.70,622.60 1920.60,614.80 1946.80,608.90 1974.20,611.10 2003.00,582.70 2030.00,611.10 2055.20,614.80 2080.30,621.80 2108.40,582.70 2132.00,608.90" fill="none" stroke="#d5559b" stroke-width="5.00" stroke-linejoin="round" stroke-linecap="round"/>
<circle cx="1894.70" cy="622.60" r="4.70" fill="#9a9592" stroke="#e7d74a" stroke-width="2.60"/>
<circle cx="1920.60" cy="614.80" r="4.70" fill="#9a9592" stroke="#e7d74a" stroke-width="2.60"/>
<circle cx="1946.80" cy="608.90" r="4.70" fill="#9a9592" stroke="#e7d74a" stroke-width="2.60"/>
<circle cx="1974.20" cy="611.10" r="4.70" fill="#9a9592" stroke="#e7d74a" stroke-width="2.60"/>
<circle cx="2003.00" cy="582.70" r="4.70" fill="#9a9592" stroke="#e7d74a" stroke-width="2.60"/>
<circle cx="2030.00" cy="611.10" r="4.70" fill="#9a9592" stroke="#e7d74a" stroke-width="2.60"/>
<circle cx="2055.20" cy="614.80" r="4.70" fill="#9a9592" stroke="#e7d74a" stroke-width="2.60"/>
<circle cx="2080.30" cy="621.80" r="4.70" fill="#9a9592" stroke="#e7d74a" stroke-width="2.60"/>
<circle cx="2108.40" cy="582.70" r="4.70" fill="#9a9592" stroke="#e7d74a" stroke-width="2.60"/>
<circle cx="2132.00" cy="608.90" r="4.70" fill="#9a9592" stroke="#e7d74a" stroke-width="2.60"/>
<polyline points="2149.40,664.40 2173.80,665.10 2201.60,669.20 2225.60,655.10 2254.80,652.50 2279.50,658.40 2307.60,653.30 2333.90,664.00 2361.60,663.30 2390.10,665.10" fill="none" stroke="#6d6e70" stroke-width="5.00" stroke-linejoin="round" stroke-linecap="round"/>
<circle cx="2149.40" cy="664.40" r="4.70" fill="#9a9592" stroke="#e7d74a" stroke-width="2.60"/>
<circle cx="2173.80" cy="665.10" r="4.70" fill="#9a9592" stroke="#e7d74a" stroke-width="2.60"/>
<circle cx="2201.60" cy="669.20" r="4.70" fill="#9a9592" stroke="#e7d74a" stroke-width="2.60"/>
<circle cx="2225.60" cy="655.10" r="4.70" fill="#9a9592" stroke="#e7d74a" stroke-width="2.60"/>
<circle cx="2254.80" cy="652.50" r="4.70" fill="#9a9592" stroke="#e7d74a" stroke-width="2.60"/>
<circle cx="2279.50" cy="658.40" r="4.70" fill="#9a9592" stroke="#e7d74a" stroke-width="2.60"/>
<circle cx="2307.60" cy="653.30" r="4.70" fill="#9a9592" stroke="#e7d74a" stroke-width="2.60"/>
<circle cx="2333.90" cy="664.00" r="4.70" fill="#9a9592" stroke="#e7d74a" stroke-width="2.60"/>
<circle cx="2361.60" cy="663.30" r="4.70" fill="#9a9592" stroke="#e7d74a" stroke-width="2.60"/>
<circle cx="2390.10" cy="665.10" r="4.70" fill="#9a9592" stroke="#e7d74a" stroke-width="2.60"/>
<text transform="scale(0.9200 1)" y="789.60" font-size="32.00" fill="#6b7f99" stroke="#6b7f99" stroke-width="1.00" stroke-linejoin="round"><tspan x="257.72 275.59 295.47 315.35 323.29 333.23 351.10 370.98 378.92 396.80 416.68">veal calves</tspan></text>
<text transform="scale(0.9200 1)" y="789.60" font-size="32.00" fill="#3e5572" stroke="#3e5572" stroke-width="1.00" stroke-linejoin="round"><tspan x="504.27 522.40 542.56 562.72 582.88 603.04 613.11 633.27 653.44 671.56 679.62 699.78 719.94">young bovines</tspan></text>
<text transform="scale(0.9200 1)" y="789.60" font-size="32.00" fill="#dc8db5" stroke="#dc8db5" stroke-width="1.00" stroke-linejoin="round"><tspan x="799.00 809.13 829.41 839.54 849.67 869.94 890.22 898.32 918.60 938.87 949.00 969.28 977.38 997.66">fattening pigs</tspan></text>
<text transform="scale(0.9200 1)" y="789.60" font-size="32.00" fill="#6d6e70" stroke="#6d6e70" stroke-width="1.00" stroke-linejoin="round"><tspan x="1146.20 1168.74 1182.25 1204.79 1213.80 1222.81 1245.35 1258.85">broilers</tspan></text>
<text transform="scale(0.9200 1)" y="789.60" font-size="32.00" fill="#6b7f99" stroke="#6b7f99" stroke-width="1.00" stroke-linejoin="round"><tspan x="1531.96 1549.83 1569.71 1589.59 1597.53 1607.47 1625.34 1645.22 1653.16 1671.04 1690.92">veal calves</tspan></text>
<text transform="scale(0.9200 1)" y="789.60" font-size="32.00" fill="#3e5572" stroke="#3e5572" stroke-width="1.00" stroke-linejoin="round"><tspan x="1797.20 1815.24 1835.30 1855.36 1875.42 1895.48 1905.50 1925.56 1945.62 1963.65 1971.67 1991.73 2011.79">young bovines</tspan></text>
<text transform="scale(0.9200 1)" y="789.60" font-size="32.00" fill="#dc8db5" stroke="#dc8db5" stroke-width="1.00" stroke-linejoin="round"><tspan x="2087.70 2097.81 2118.06 2128.17 2138.28 2158.52 2178.77 2186.85 2207.10 2227.34 2237.45 2257.70 2265.78 2286.03">fattening pigs</tspan></text>
<text transform="scale(0.9200 1)" y="789.60" font-size="32.00" fill="#6d6e70" stroke="#6d6e70" stroke-width="1.00" stroke-linejoin="round"><tspan x="2425.22 2447.46 2460.78 2483.02 2491.91 2500.79 2523.03 2536.35">broilers</tspan></text>
<text transform="scale(0.8800 1)" y="879.20" font-size="29.60" fill="#1f1f1f" stroke="#f5f5f4" stroke-width="0.40"><tspan x="465.40 487.54 506.01 515.24 522.61 541.08 548.46 566.93 576.15 583.53 600.13 609.36 625.96 633.34 651.80 668.41 685.01 703.48 720.08 729.30 738.53 757.00 773.60 782.82 801.29 819.76 828.98 838.21 856.68 884.34 891.71 910.18 928.65 947.12 965.58 984.05 991.43 1008.03 1015.41 1022.78 1030.16 1037.54 1056.01 1072.61 1081.83 1091.06 1109.53 1127.99 1146.46 1164.93 1172.30 1188.91 1207.37 1214.75 1231.35 1240.58 1249.80 1260.86 1270.09 1277.47 1295.93 1314.40 1325.46 1343.92 1354.98 1373.45 1391.92 1399.29 1417.76 1436.23 1443.60 1462.07 1480.54 1499.01 1515.61 1524.83 1534.06 1552.53 1570.99 1578.37 1594.97 1622.63 1639.24 1655.84 1663.22 1681.68 1698.29 1707.51 1716.74 1735.20 1746.26 1764.73 1773.95 1792.42 1810.89 1829.36 1847.82 1858.88 1877.35 1886.57 1893.95 1912.42 1930.88 1940.11 1956.71 1975.18 1993.65 2012.11 2030.58 2037.96 2056.43 2073.03 2091.50 2109.96 2121.02 2128.40 2146.86 2163.47 2172.69 2181.92 2200.39 2228.05 2235.42 2253.89 2272.36 2290.82 2298.20 2314.80 2331.41 2349.87 2366.48 2373.85 2392.32 2410.79 2427.39">Antibiotic classes tested: aminopenicillins, phenicols, (fluoro)quinolones, polymyxins, 3rd generation cephalosporins, aminoglycosides,</tspan></text>
<text transform="scale(0.8800 1)" y="913.50" font-size="29.60" fill="#1f1f1f" stroke="#f5f5f4" stroke-width="0.40"><tspan x="843.95 860.72 879.38 886.83 896.15 914.81 942.75 950.20 968.86 987.51 1004.29 1013.61 1022.93 1032.24 1043.42 1050.87 1078.81 1097.47 1106.79 1125.44 1144.10 1162.76 1173.93 1181.38 1209.32 1218.64 1227.96 1237.28 1255.94 1265.26 1276.43 1295.08 1311.86 1328.63 1345.40 1352.85 1360.31 1378.96 1397.62 1414.39 1423.71 1433.03 1460.97 1479.63 1496.40 1507.57 1526.23 1533.68 1541.13 1559.79 1578.44 1595.22 1604.54 1613.86 1630.63 1649.28 1660.46 1679.11 1697.77 1716.42 1735.08 1753.74 1772.39 1800.33 1818.99 1835.76 1845.08 1854.40 1873.06 1880.51 1897.28 1914.06 1930.83 1938.28 1955.05 1971.83 1988.60 1996.05 2003.50 2022.16 2040.81">sulfamides, trimethoprim, tetracyclines, macrolides, carbapenemes, glycylcyclines</tspan></text>
<rect x="665.90" y="995.00" width="1099.00" height="48.80" fill="#6883a3"/>
<text transform="scale(0.8800 1)" y="1030.50" font-size="34.40" fill="#ffffff" stroke="#6883a3" stroke-width="0.40"><tspan x="1089.56 1113.10 1124.86 1144.48 1162.13 1181.75 1189.59 1209.22 1228.85 1246.49 1266.12 1275.93 1295.55 1305.36 1315.16 1338.70 1362.24 1381.87 1405.40 1417.16 1436.78 1448.54 1468.16 1487.79 1507.42 1525.06 1532.90 1552.53 1572.16">Prevalence of BSLE-producing </tspan><tspan font-style="italic" x="1581.96 1605.50 1615.30 1625.11 1642.75 1662.38 1670.22">E. coli</tspan></text>
<text transform="scale(0.8600 1)" y="1098.32" font-size="30.50" fill="#737375" stroke="#f5f5f4" stroke-width="0.40"><tspan x="775.06 792.02 808.98 825.94">100%</tspan></text>
<text transform="scale(0.8600 1)" y="1154.82" font-size="30.50" fill="#737375" stroke="#f5f5f4" stroke-width="0.40"><tspan x="792.02 808.98 825.94">80%</tspan></text>
<text transform="scale(0.8600 1)" y="1211.32" font-size="30.50" fill="#737375" stroke="#f5f5f4" stroke-width="0.40"><tspan x="792.02 808.98 825.94">60%</tspan></text>
<text transform="scale(0.8600 1)" y="1267.82" font-size="30.50" fill="#737375" stroke="#f5f5f4" stroke-width="0.40"><tspan x="792.02 808.98 825.94">40%</tspan></text>
<text transform="scale(0.8600 1)" y="1324.32" font-size="30.50" fill="#737375" stroke="#f5f5f4" stroke-width="0.40"><tspan x="792.02 808.98 825.94">20%</tspan></text>
<text transform="scale(0.8600 1)" y="1380.82" font-size="30.50" fill="#737375" stroke="#f5f5f4" stroke-width="0.40"><tspan x="808.98 825.94">0%</tspan></text>
<text transform="translate(779.53 1442.30) rotate(-90) scale(0.8800 1)" y="0.00" font-size="25.60" fill="#737375" stroke="#f5f5f4" stroke-width="0.40"><tspan x="-1.29 13.85 28.98 44.11">2015</tspan></text>
<text transform="translate(825.63 1442.30) rotate(-90) scale(0.8800 1)" y="0.00" font-size="25.60" fill="#737375" stroke="#f5f5f4" stroke-width="0.40"><tspan x="-1.29 13.86 29.01 44.16">2016</tspan></text>
<text transform="translate(871.83 1442.30) rotate(-90) scale(0.8800 1)" y="0.00" font-size="25.60" fill="#737375" stroke="#f5f5f4" stroke-width="0.40"><tspan x="-1.29 13.92 29.12 44.32">2017</tspan></text>
<text transform="translate(917.13 1442.30) rotate(-90) scale(0.8800 1)" y="0.00" font-size="25.60" fill="#737375" stroke="#f5f5f4" stroke-width="0.40"><tspan x="-1.29 13.86 29.00 44.15">2018</tspan></text>
<text transform="translate(964.13 1442.30) rotate(-90) scale(0.8800 1)" y="0.00" font-size="25.60" fill="#737375" stroke="#f5f5f4" stroke-width="0.40"><tspan x="-1.29 13.89 29.07 44.25">2019</tspan></text>
<text transform="translate(1009.83 1442.30) rotate(-90) scale(0.8800 1)" y="0.00" font-size="25.60" fill="#737375" stroke="#f5f5f4" stroke-width="0.40"><tspan x="-1.29 13.82 28.93 44.04">2020</tspan></text>
<text transform="translate(1111.63 1442.30) rotate(-90) scale(0.8800 1)" y="0.00" font-size="25.60" fill="#737375" stroke="#f5f5f4" stroke-width="0.40"><tspan x="-1.29 13.85 28.98 44.11">2015</tspan></text>
<text transform="translate(1157.73 1442.30) rotate(-90) scale(0.8800 1)" y="0.00" font-size="25.60" fill="#737375" stroke="#f5f5f4" stroke-width="0.40"><tspan x="-1.29 13.86 29.01 44.16">2016</tspan></text>
<text transform="translate(1203.03 1442.30) rotate(-90) scale(0.8800 1)" y="0.00" font-size="25.60" fill="#737375" stroke="#f5f5f4" stroke-width="0.40"><tspan x="-1.29 13.92 29.12 44.32">2017</tspan></text>
<text transform="translate(1248.83 1442.30) rotate(-90) scale(0.8800 1)" y="0.00" font-size="25.60" fill="#737375" stroke="#f5f5f4" stroke-width="0.40"><tspan x="-1.29 13.86 29.00 44.15">2018</tspan></text>
<text transform="translate(1294.43 1442.30) rotate(-90) scale(0.8800 1)" y="0.00" font-size="25.60" fill="#737375" stroke="#f5f5f4" stroke-width="0.40"><tspan x="-1.29 13.89 29.07 44.25">2019</tspan></text>
<text transform="translate(1341.03 1442.30) rotate(-90) scale(0.8800 1)" y="0.00" font-size="25.60" fill="#737375" stroke="#f5f5f4" stroke-width="0.40"><tspan x="-1.29 13.82 28.93 44.04">2020</tspan></text>
<text transform="translate(1434.33 1442.30) rotate(-90) scale(0.8800 1)" y="0.00" font-size="25.60" fill="#737375" stroke="#f5f5f4" stroke-width="0.40"><tspan x="-1.29 13.85 28.98 44.11">2015</tspan></text>
<text transform="translate(1479.53 1442.30) rotate(-90) scale(0.8800 1)" y="0.00" font-size="25.60" fill="#737375" stroke="#f5f5f4" stroke-width="0.40"><tspan x="-1.29 13.86 29.01 44.16">2016</tspan></text>
<text transform="translate(1525.33 1442.30) rotate(-90) scale(0.8800 1)" y="0.00" font-size="25.60" fill="#737375" stroke="#f5f5f4" stroke-width="0.40"><tspan x="-1.29 13.92 29.12 44.32">2017</tspan></text>
<text transform="translate(1571.43 1442.30) rotate(-90) scale(0.8800 1)" y="0.00" font-size="25.60" fill="#737375" stroke="#f5f5f4" stroke-width="0.40"><tspan x="-1.29 13.86 29.00 44.15">2018</tspan></text>
<text transform="translate(1617.63 1442.30) rotate(-90) scale(0.8800 1)" y="0.00" font-size="25.60" fill="#737375" stroke="#f5f5f4" stroke-width="0.40"><tspan x="-1.29 13.89 29.07 44.25">2019</tspan></text>
<text transform="translate(1662.83 1442.30) rotate(-90) scale(0.8800 1)" y="0.00" font-size="25.60" fill="#737375" stroke="#f5f5f4" stroke-width="0.40"><tspan x="-1.29 13.82 28.93 44.04">2020</tspan></text>
<polyline points="765.10,1182.70 815.10,1177.50 863.00,1174.50 908.30,1203.00 956.10,1190.50 1002.30,1154.20" fill="none" stroke="#143e66" stroke-width="4.40" stroke-linejoin="round" stroke-linecap="round"/>
<path d="M765.10 1175.90L771.90 1182.70L765.10 1189.50L758.30 1182.70Z" fill="#f08c0f" stroke="#1b3450" stroke-width="2.2"/>
<path d="M815.10 1170.70L821.90 1177.50L815.10 1184.30L808.30 1177.50Z" fill="#f08c0f" stroke="#1b3450" stroke-width="2.2"/>
<path d="M863.00 1167.70L869.80 1174.50L863.00 1181.30L856.20 1174.50Z" fill="#f08c0f" stroke="#1b3450" stroke-width="2.2"/>
<path d="M908.30 1196.20L915.10 1203.00L908.30 1209.80L901.50 1203.00Z" fill="#f08c0f" stroke="#1b3450" stroke-width="2.2"/>
<path d="M956.10 1183.70L962.90 1190.50L956.10 1197.30L949.30 1190.50Z" fill="#f08c0f" stroke="#1b3450" stroke-width="2.2"/>
<path d="M1002.30 1147.40L1009.10 1154.20L1002.30 1161.00L995.50 1154.20Z" fill="#f08c0f" stroke="#1b3450" stroke-width="2.2"/>
<polyline points="1096.70,1193.10 1142.90,1179.70 1189.50,1181.00 1235.20,1209.90 1282.20,1227.10 1330.10,1244.80" fill="none" stroke="#143e66" stroke-width="4.40" stroke-linejoin="round" stroke-linecap="round"/>
<path d="M1096.70 1186.30L1103.50 1193.10L1096.70 1199.90L1089.90 1193.10Z" fill="#f08c0f" stroke="#1b3450" stroke-width="2.2"/>
<path d="M1142.90 1172.90L1149.70 1179.70L1142.90 1186.50L1136.10 1179.70Z" fill="#f08c0f" stroke="#1b3450" stroke-width="2.2"/>
<path d="M1189.50 1174.20L1196.30 1181.00L1189.50 1187.80L1182.70 1181.00Z" fill="#f08c0f" stroke="#1b3450" stroke-width="2.2"/>
<path d="M1235.20 1203.10L1242.00 1209.90L1235.20 1216.70L1228.40 1209.90Z" fill="#f08c0f" stroke="#1b3450" stroke-width="2.2"/>
<path d="M1282.20 1220.30L1289.00 1227.10L1282.20 1233.90L1275.40 1227.10Z" fill="#f08c0f" stroke="#1b3450" stroke-width="2.2"/>
<path d="M1330.10 1238.00L1336.90 1244.80L1330.10 1251.60L1323.30 1244.80Z" fill="#f08c0f" stroke="#1b3450" stroke-width="2.2"/>
<polyline points="1469.40,1129.20 1518.20,1115.90 1563.50,1152.90 1610.10,1182.30 1657.10,1145.60" fill="none" stroke="#143e66" stroke-width="4.40" stroke-linejoin="round" stroke-linecap="round"/>
<path d="M1469.40 1122.40L1476.20 1129.20L1469.40 1136.00L1462.60 1129.20Z" fill="#f08c0f" stroke="#1b3450" stroke-width="2.2"/>
<path d="M1518.20 1109.10L1525.00 1115.90L1518.20 1122.70L1511.40 1115.90Z" fill="#f08c0f" stroke="#1b3450" stroke-width="2.2"/>
<path d="M1563.50 1146.10L1570.30 1152.90L1563.50 1159.70L1556.70 1152.90Z" fill="#f08c0f" stroke="#1b3450" stroke-width="2.2"/>
<path d="M1610.10 1175.50L1616.90 1182.30L1610.10 1189.10L1603.30 1182.30Z" fill="#f08c0f" stroke="#1b3450" stroke-width="2.2"/>
<path d="M1657.10 1138.80L1663.90 1145.60L1657.10 1152.40L1650.30 1145.60Z" fill="#f08c0f" stroke="#1b3450" stroke-width="2.2"/>
<polyline points="768.10,1363.90 816.80,1361.70 862.50,1361.30 909.60,1347.00 957.00,1365.10 1003.60,1369.50" fill="none" stroke="#ec8c1a" stroke-width="4.40" stroke-linejoin="round" stroke-linecap="round"/>
<circle cx="768.10" cy="1363.90" r="4.60" fill="#2b7fb8" stroke="#8dbb3c" stroke-width="2.40"/>
<circle cx="816.80" cy="1361.70" r="4.60" fill="#2b7fb8" stroke="#8dbb3c" stroke-width="2.40"/>
<circle cx="862.50" cy="1361.30" r="4.60" fill="#2b7fb8" stroke="#8dbb3c" stroke-width="2.40"/>
<circle cx="909.60" cy="1347.00" r="4.60" fill="#2b7fb8" stroke="#8dbb3c" stroke-width="2.40"/>
<circle cx="957.00" cy="1365.10" r="4.60" fill="#2b7fb8" stroke="#8dbb3c" stroke-width="2.40"/>
<circle cx="1003.60" cy="1369.50" r="4.60" fill="#2b7fb8" stroke="#8dbb3c" stroke-width="2.40"/>
<polyline points="1097.20,1369.50 1144.60,1364.70 1191.20,1341.40 1237.30,1338.40 1282.20,1369.50 1330.10,1369.50" fill="none" stroke="#ec8c1a" stroke-width="4.40" stroke-linejoin="round" stroke-linecap="round"/>
<circle cx="1097.20" cy="1369.50" r="4.60" fill="#2b7fb8" stroke="#8dbb3c" stroke-width="2.40"/>
<circle cx="1144.60" cy="1364.70" r="4.60" fill="#2b7fb8" stroke="#8dbb3c" stroke-width="2.40"/>
<circle cx="1191.20" cy="1341.40" r="4.60" fill="#2b7fb8" stroke="#8dbb3c" stroke-width="2.40"/>
<circle cx="1237.30" cy="1338.40" r="4.60" fill="#2b7fb8" stroke="#8dbb3c" stroke-width="2.40"/>
<circle cx="1282.20" cy="1369.50" r="4.60" fill="#2b7fb8" stroke="#8dbb3c" stroke-width="2.40"/>
<circle cx="1330.10" cy="1369.50" r="4.60" fill="#2b7fb8" stroke="#8dbb3c" stroke-width="2.40"/>
<polyline points="1424.60,1358.70 1469.40,1343.10 1518.60,1314.70 1562.60,1315.50 1609.20,1346.60 1657.10,1353.90" fill="none" stroke="#ec8c1a" stroke-width="4.40" stroke-linejoin="round" stroke-linecap="round"/>
<circle cx="1424.60" cy="1358.70" r="4.60" fill="#2b7fb8" stroke="#8dbb3c" stroke-width="2.40"/>
<circle cx="1469.40" cy="1343.10" r="4.60" fill="#2b7fb8" stroke="#8dbb3c" stroke-width="2.40"/>
<circle cx="1518.60" cy="1314.70" r="4.60" fill="#2b7fb8" stroke="#8dbb3c" stroke-width="2.40"/>
<circle cx="1562.60" cy="1315.50" r="4.60" fill="#2b7fb8" stroke="#8dbb3c" stroke-width="2.40"/>
<circle cx="1609.20" cy="1346.60" r="4.60" fill="#2b7fb8" stroke="#8dbb3c" stroke-width="2.40"/>
<circle cx="1657.10" cy="1353.90" r="4.60" fill="#2b7fb8" stroke="#8dbb3c" stroke-width="2.40"/>
<text transform="scale(0.9200 1)" y="1497.60" font-size="32.00" fill="#6b7f99" stroke="#6b7f99" stroke-width="1.00" stroke-linejoin="round"><tspan x="875.65 893.48 913.30 933.13 941.05 950.95 968.78 988.61 996.53 1014.35 1034.18">veal calves</tspan></text>
<text transform="scale(0.9200 1)" y="1497.60" font-size="32.00" fill="#dc8db5" stroke="#dc8db5" stroke-width="1.00" stroke-linejoin="round"><tspan x="1294.13 1314.76 1323.00 1343.63">pigs</tspan></text>
<text transform="scale(0.9200 1)" y="1497.60" font-size="32.00" fill="#6d6e70" stroke="#6d6e70" stroke-width="1.00" stroke-linejoin="round"><tspan x="1614.89 1637.18 1650.52 1672.81 1681.71 1690.61 1712.90 1726.24">broilers</tspan></text>
<line x1="497.30" y1="1576.80" x2="553.00" y2="1576.80" stroke="#143e66" stroke-width="4.40"/>
<path d="M525.30 1570.60L531.50 1576.80L525.30 1583.00L519.10 1576.80Z" fill="#f08c0f" stroke="#1b3450" stroke-width="2.2"/>
<text transform="scale(0.8619 1)" y="1587.70" font-size="33.70" fill="#4b6b90" stroke="#f5f5f4" stroke-width="0.40"><tspan x="647.32 669.80 681.02 699.76 716.61 735.36 742.84 761.59 780.33 797.18 815.92 825.28 844.03 862.77 879.62 898.36 917.10 926.47 945.21 963.95 973.31 990.16 1008.91 1016.39 1035.13 1051.98 1061.35 1068.83 1085.68 1104.43 1113.79 1141.86 1160.60 1179.35 1186.83 1196.20 1214.94 1226.16 1233.65 1252.39">Prevalence based on selective monitoring</tspan></text>
<line x1="1231.00" y1="1578.30" x2="1286.70" y2="1578.30" stroke="#ec8c1a" stroke-width="4.40"/>
<circle cx="1261.10" cy="1578.30" r="4.60" fill="#2b7fb8" stroke="#8dbb3c" stroke-width="2.40"/>
<text transform="scale(0.8655 1)" y="1589.00" font-size="33.70" fill="#4b6b90" stroke="#f5f5f4" stroke-width="0.40"><tspan x="1492.48 1514.95 1526.18 1544.92 1561.77 1580.51 1588.00 1606.74 1625.48 1642.33 1661.08 1670.44 1689.18 1707.92 1724.77 1743.51 1762.26 1771.62 1790.36 1809.10 1818.47 1837.21 1855.95 1874.69 1885.92 1902.77 1921.51 1929.00 1947.74 1964.59 1973.95 1981.44 1998.29 2017.03 2026.39 2054.47 2073.21 2091.95 2099.44 2108.80 2127.54 2138.77 2146.25 2165.00">Prevalence based on non-selective monitoring</tspan></text>
<text transform="scale(0.8800 1)" y="1646.80" font-size="30.50" fill="#1f1f1f" stroke="#f5f5f4" stroke-width="0.40"><tspan x="699.18 721.33 739.79 747.16 765.63 782.22 791.45 798.82 815.42 833.88 843.11 870.76 889.22 907.69 915.06 924.29 942.75 953.80 961.18 979.64 998.10 1007.33 1016.55 1044.20 1060.80 1084.78 1103.24 1121.70 1138.30 1156.76 1173.36 1182.58 1201.97 1211.19 1227.79 1246.26 1255.48 1273.94 1283.16 1301.63 1318.23 1325.60 1353.25 1362.48 1380.94 1399.40 1417.87 1428.92 1438.14 1456.61 1465.83 1489.80 1508.27 1526.73 1537.78 1554.38 1572.85 1580.22 1598.68 1615.28 1624.51 1631.88 1648.48 1666.94 1676.17 1703.82 1722.28 1740.74 1748.12 1757.34 1775.81 1786.86 1794.24 1812.70 1831.16 1840.38 1849.61 1873.58 1880.96 1890.18 1908.64 1927.11 1945.57 1954.79 1964.01 1980.61 1999.08 2008.30 2026.76 2035.99 2054.45 2071.05 2078.42">Selective monitoring: McConkey + cefotaxim agar – Non-selective monitoring: without cefotaxim</tspan></text>
<rect x="496.00" y="1735.00" width="1465.00" height="107.50" fill="#6883a3"/>
<text transform="scale(0.8800 1)" y="1780.00" font-size="34.70" fill="#ffffff" stroke="#6883a3" stroke-width="0.40"><tspan x="817.72 842.58 854.99 875.72 894.35 915.08 923.36 944.08 964.81 983.45 1004.17 1014.53 1035.25 1045.61">Prevalence of </tspan><tspan font-style="italic" x="1055.96 1080.82 1101.55 1109.83 1140.87 1161.60 1182.32 1203.05 1211.33 1219.61 1240.34 1250.69 1271.42 1292.15 1302.50 1323.23 1335.64 1343.92 1362.55">Salmonella enterica</tspan><tspan x="1383.28 1393.63 1412.27 1432.99 1445.40 1466.13 1476.48 1495.12 1515.85 1536.57 1555.21 1565.56 1586.29 1596.64 1607.00 1638.04 1658.77 1667.05 1687.77 1700.19 1710.54 1731.27 1751.99 1783.04 1803.76 1824.49 1834.85 1853.48 1874.21 1894.93 1913.57 1934.29 1946.70"> serotypes of major human concern</tspan></text>
<text transform="scale(0.8800 1)" y="1819.70" font-size="34.70" fill="#ffffff" stroke="#6883a3" stroke-width="0.40"><tspan x="1047.58 1068.93 1090.28 1100.95 1111.61 1130.81 1152.15 1171.35 1190.54 1211.89 1233.24 1243.91 1252.43 1273.78 1282.31 1303.66 1314.33 1324.99 1346.34 1357.01 1376.20 1384.73 1406.08 1418.86 1440.21 1450.88 1459.41 1480.76 1499.95 1521.30 1540.49 1549.02 1570.37 1581.04 1589.56 1610.91 1621.58 1642.93 1664.28 1685.63 1694.16 1704.82 1717.60">not susceptible to ciprofloxacin in poultry</tspan></text>
<text transform="scale(0.8600 1)" y="1907.02" font-size="30.50" fill="#737375" stroke="#ffffff" stroke-width="0.40"><tspan x="578.20 595.16 612.12 629.08">100%</tspan></text>
<text transform="scale(0.8600 1)" y="1963.12" font-size="30.50" fill="#737375" stroke="#ffffff" stroke-width="0.40"><tspan x="595.16 612.12 629.08">80%</tspan></text>
<text transform="scale(0.8600 1)" y="2019.22" font-size="30.50" fill="#737375" stroke="#ffffff" stroke-width="0.40"><tspan x="595.16 612.12 629.08">60%</tspan></text>
<text transform="scale(0.8600 1)" y="2075.32" font-size="30.50" fill="#737375" stroke="#ffffff" stroke-width="0.40"><tspan x="595.16 612.12 629.08">40%</tspan></text>
<text transform="scale(0.8600 1)" y="2131.42" font-size="30.50" fill="#737375" stroke="#ffffff" stroke-width="0.40"><tspan x="595.16 612.12 629.08">20%</tspan></text>
<text transform="scale(0.8600 1)" y="2187.52" font-size="30.50" fill="#737375" stroke="#ffffff" stroke-width="0.40"><tspan x="612.12 629.08">0%</tspan></text>
<rect x="570.20" y="2194.20" width="260.10" height="164.80" fill="#f0f4e4"/>
<rect x="853.10" y="2194.20" width="259.70" height="164.80" fill="#f0f4e4"/>
<rect x="1134.80" y="2194.20" width="260.70" height="164.80" fill="#f0f4e4"/>
<rect x="1419.40" y="2194.20" width="260.20" height="164.80" fill="#f0f4e4"/>
<rect x="1703.90" y="2194.20" width="259.70" height="164.80" fill="#f0f4e4"/>
<rect x="593.80" y="2161.60" width="20.60" height="20.40" fill="#94c11f"/>
<rect x="635.00" y="2158.30" width="20.60" height="23.70" fill="#94c11f"/>
<rect x="676.20" y="2105.40" width="20.10" height="76.60" fill="#94c11f"/>
<rect x="758.60" y="2151.30" width="19.70" height="30.70" fill="#94c11f"/>
<rect x="798.00" y="2088.50" width="19.60" height="93.50" fill="#94c11f"/>
<rect x="879.40" y="2124.60" width="20.20" height="57.40" fill="#94c11f"/>
<rect x="1041.90" y="2151.30" width="20.20" height="30.70" fill="#94c11f"/>
<rect x="1202.00" y="2142.90" width="20.20" height="39.10" fill="#94c11f"/>
<rect x="1486.00" y="2151.30" width="20.10" height="30.70" fill="#94c11f"/>
<rect x="1609.10" y="2038.40" width="19.70" height="143.60" fill="#94c11f"/>
<rect x="1649.40" y="2142.90" width="19.70" height="39.10" fill="#94c11f"/>
<rect x="1731.40" y="1999.50" width="20.10" height="182.50" fill="#94c11f"/>
<rect x="1772.10" y="1935.40" width="19.70" height="246.60" fill="#94c11f"/>
<rect x="1812.80" y="1918.50" width="19.70" height="263.50" fill="#94c11f"/>
<rect x="1853.10" y="1918.50" width="20.10" height="263.50" fill="#94c11f"/>
<rect x="1893.90" y="1925.60" width="19.60" height="256.40" fill="#94c11f"/>
<rect x="1934.10" y="1979.90" width="19.70" height="202.10" fill="#94c11f"/>
<line x1="1619.50" y1="2045.10" x2="1619.50" y2="2065.70" stroke="#35536f" stroke-width="2.80"/>
<line x1="1613.50" y1="2049.40" x2="1625.50" y2="2061.40" stroke="#35536f" stroke-width="2.80"/>
<line x1="1625.50" y1="2049.40" x2="1613.50" y2="2061.40" stroke="#35536f" stroke-width="2.80"/>
<text transform="translate(607.03 2257.60) rotate(-90) scale(0.8800 1)" y="0.00" font-size="25.60" fill="#737375" stroke="#f0f4e4" stroke-width="0.40"><tspan x="-1.29 13.59 28.46 43.33">2014</tspan></text>
<text transform="translate(648.93 2257.60) rotate(-90) scale(0.8800 1)" y="0.00" font-size="25.60" fill="#737375" stroke="#f0f4e4" stroke-width="0.40"><tspan x="-1.29 13.69 28.67 43.66">2015</tspan></text>
<text transform="translate(691.13 2257.60) rotate(-90) scale(0.8800 1)" y="0.00" font-size="25.60" fill="#737375" stroke="#f0f4e4" stroke-width="0.40"><tspan x="-1.29 13.71 28.71 43.71">2016</tspan></text>
<text transform="translate(732.13 2257.60) rotate(-90) scale(0.8800 1)" y="0.00" font-size="25.60" fill="#737375" stroke="#f0f4e4" stroke-width="0.40"><tspan x="-1.29 13.76 28.82 43.87">2017</tspan></text>
<text transform="translate(773.13 2257.60) rotate(-90) scale(0.8800 1)" y="0.00" font-size="25.60" fill="#737375" stroke="#f0f4e4" stroke-width="0.40"><tspan x="-1.29 13.71 28.70 43.69">2018</tspan></text>
<text transform="translate(815.33 2257.60) rotate(-90) scale(0.8800 1)" y="0.00" font-size="25.60" fill="#737375" stroke="#f0f4e4" stroke-width="0.40"><tspan x="-1.29 13.67 28.62 43.58">2020</tspan></text>
<text transform="translate(892.53 2257.60) rotate(-90) scale(0.8800 1)" y="0.00" font-size="25.60" fill="#737375" stroke="#f0f4e4" stroke-width="0.40"><tspan x="-1.29 13.59 28.46 43.33">2014</tspan></text>
<text transform="translate(933.93 2257.60) rotate(-90) scale(0.8800 1)" y="0.00" font-size="25.60" fill="#737375" stroke="#f0f4e4" stroke-width="0.40"><tspan x="-1.29 13.69 28.67 43.66">2015</tspan></text>
<text transform="translate(975.83 2257.60) rotate(-90) scale(0.8800 1)" y="0.00" font-size="25.60" fill="#737375" stroke="#f0f4e4" stroke-width="0.40"><tspan x="-1.29 13.71 28.71 43.71">2016</tspan></text>
<text transform="translate(1017.63 2257.60) rotate(-90) scale(0.8800 1)" y="0.00" font-size="25.60" fill="#737375" stroke="#f0f4e4" stroke-width="0.40"><tspan x="-1.29 13.76 28.82 43.87">2017</tspan></text>
<text transform="translate(1059.03 2257.60) rotate(-90) scale(0.8800 1)" y="0.00" font-size="25.60" fill="#737375" stroke="#f0f4e4" stroke-width="0.40"><tspan x="-1.29 13.71 28.70 43.69">2018</tspan></text>
<text transform="translate(1100.93 2257.60) rotate(-90) scale(0.8800 1)" y="0.00" font-size="25.60" fill="#737375" stroke="#f0f4e4" stroke-width="0.40"><tspan x="-1.29 13.67 28.62 43.58">2020</tspan></text>
<text transform="translate(1178.13 2257.60) rotate(-90) scale(0.8800 1)" y="0.00" font-size="25.60" fill="#737375" stroke="#f0f4e4" stroke-width="0.40"><tspan x="-1.29 13.59 28.46 43.33">2014</tspan></text>
<text transform="translate(1219.93 2257.60) rotate(-90) scale(0.8800 1)" y="0.00" font-size="25.60" fill="#737375" stroke="#f0f4e4" stroke-width="0.40"><tspan x="-1.29 13.69 28.67 43.66">2015</tspan></text>
<text transform="translate(1261.33 2257.60) rotate(-90) scale(0.8800 1)" y="0.00" font-size="25.60" fill="#737375" stroke="#f0f4e4" stroke-width="0.40"><tspan x="-1.29 13.71 28.71 43.71">2016</tspan></text>
<text transform="translate(1302.63 2257.60) rotate(-90) scale(0.8800 1)" y="0.00" font-size="25.60" fill="#737375" stroke="#f0f4e4" stroke-width="0.40"><tspan x="-1.29 13.76 28.82 43.87">2017</tspan></text>
<text transform="translate(1345.03 2257.60) rotate(-90) scale(0.8800 1)" y="0.00" font-size="25.60" fill="#737375" stroke="#f0f4e4" stroke-width="0.40"><tspan x="-1.29 13.71 28.70 43.69">2018</tspan></text>
<text transform="translate(1386.33 2257.60) rotate(-90) scale(0.8800 1)" y="0.00" font-size="25.60" fill="#737375" stroke="#f0f4e4" stroke-width="0.40"><tspan x="-1.29 13.67 28.62 43.58">2020</tspan></text>
<text transform="translate(1463.73 2257.60) rotate(-90) scale(0.8800 1)" y="0.00" font-size="25.60" fill="#737375" stroke="#f0f4e4" stroke-width="0.40"><tspan x="-1.29 13.59 28.46 43.33">2014</tspan></text>
<text transform="translate(1505.03 2257.60) rotate(-90) scale(0.8800 1)" y="0.00" font-size="25.60" fill="#737375" stroke="#f0f4e4" stroke-width="0.40"><tspan x="-1.29 13.69 28.67 43.66">2015</tspan></text>
<text transform="translate(1546.33 2257.60) rotate(-90) scale(0.8800 1)" y="0.00" font-size="25.60" fill="#737375" stroke="#f0f4e4" stroke-width="0.40"><tspan x="-1.29 13.71 28.71 43.71">2016</tspan></text>
<text transform="translate(1587.73 2257.60) rotate(-90) scale(0.8800 1)" y="0.00" font-size="25.60" fill="#737375" stroke="#f0f4e4" stroke-width="0.40"><tspan x="-1.29 13.76 28.82 43.87">2017</tspan></text>
<text transform="translate(1629.53 2257.60) rotate(-90) scale(0.8800 1)" y="0.00" font-size="25.60" fill="#737375" stroke="#f0f4e4" stroke-width="0.40"><tspan x="-1.29 13.71 28.70 43.69">2018</tspan></text>
<text transform="translate(1670.93 2257.60) rotate(-90) scale(0.8800 1)" y="0.00" font-size="25.60" fill="#737375" stroke="#f0f4e4" stroke-width="0.40"><tspan x="-1.29 13.67 28.62 43.58">2020</tspan></text>
<text transform="translate(1748.83 2257.60) rotate(-90) scale(0.8800 1)" y="0.00" font-size="25.60" fill="#737375" stroke="#f0f4e4" stroke-width="0.40"><tspan x="-1.29 13.59 28.46 43.33">2014</tspan></text>
<text transform="translate(1790.13 2257.60) rotate(-90) scale(0.8800 1)" y="0.00" font-size="25.60" fill="#737375" stroke="#f0f4e4" stroke-width="0.40"><tspan x="-1.29 13.69 28.67 43.66">2015</tspan></text>
<text transform="translate(1831.43 2257.60) rotate(-90) scale(0.8800 1)" y="0.00" font-size="25.60" fill="#737375" stroke="#f0f4e4" stroke-width="0.40"><tspan x="-1.29 13.71 28.71 43.71">2016</tspan></text>
<text transform="translate(1872.83 2257.60) rotate(-90) scale(0.8800 1)" y="0.00" font-size="25.60" fill="#737375" stroke="#f0f4e4" stroke-width="0.40"><tspan x="-1.29 13.76 28.82 43.87">2017</tspan></text>
<text transform="translate(1914.13 2257.60) rotate(-90) scale(0.8800 1)" y="0.00" font-size="25.60" fill="#737375" stroke="#f0f4e4" stroke-width="0.40"><tspan x="-1.29 13.71 28.70 43.69">2018</tspan></text>
<text transform="translate(1955.43 2257.60) rotate(-90) scale(0.8800 1)" y="0.00" font-size="25.60" fill="#737375" stroke="#f0f4e4" stroke-width="0.40"><tspan x="-1.29 13.67 28.62 43.58">2020</tspan></text>
<text transform="scale(0.9200 1)" y="2313.60" font-size="32.50" fill="#6b80a0" stroke="#6b80a0" stroke-width="1.00" stroke-linejoin="round"><tspan font-style="italic" x="635.82 660.22">S.</tspan><tspan x="670.38 680.55 702.89 721.19 741.53 761.88 770.01 800.48 820.83 833.01 841.14 861.48"> Typhimurium</tspan></text>
<text transform="scale(0.9200 1)" y="2313.60" font-size="32.50" fill="#6b80a0" stroke="#6b80a0" stroke-width="1.00" stroke-linejoin="round"><tspan font-style="italic" x="952.23 975.99">S.</tspan><tspan x="985.89 995.78 1025.45 1045.26 1065.07 1084.88 1104.69 1124.50 1144.31 1162.12 1170.03"> monophasis</tspan></text>
<text transform="scale(0.9200 1)" y="2342.50" font-size="32.50" fill="#6b80a0" stroke="#6b80a0" stroke-width="1.00" stroke-linejoin="round"><tspan x="964.16 986.97 1005.65 1026.42 1047.19 1055.49 1086.60 1107.37 1119.81 1128.10 1148.87">Typhimurium</tspan></text>
<text transform="scale(0.9200 1)" y="2313.10" font-size="32.50" fill="#6b80a0" stroke="#6b80a0" stroke-width="1.00" stroke-linejoin="round"><tspan font-style="italic" x="1310.28 1333.23">S.</tspan><tspan x="1342.80 1352.36 1377.22 1396.36 1407.82 1426.97"> Derby</tspan></text>
<text transform="scale(0.9200 1)" y="2313.10" font-size="32.50" fill="#6b80a0" stroke="#6b80a0" stroke-width="1.00" stroke-linejoin="round"><tspan font-style="italic" x="1581.58 1606.42">S.</tspan><tspan x="1616.76 1627.11 1651.95 1672.66 1683.00 1703.71 1716.11 1724.39 1734.73 1743.01 1763.72 1771.99"> Enteritidis</tspan></text>
<text transform="scale(0.9200 1)" y="2313.10" font-size="32.50" fill="#6b80a0" stroke="#6b80a0" stroke-width="1.00" stroke-linejoin="round"><tspan font-style="italic" x="1912.23 1936.51">S.</tspan><tspan x="1946.63 1956.74 1966.85 1987.10 1997.21 2017.46 2037.70 2047.82 2055.90"> Infantis</tspan></text>
<text transform="scale(0.8800 1)" y="2427.50" font-size="30.00" fill="#1f1f1f" stroke="#ffffff" stroke-width="0.40"><tspan x="993.04 1005.81 1025.86 1044.11 1062.36 1071.48 1089.73 1107.99 1135.33 1153.58 1171.83 1182.76 1191.88 1210.13 1219.25">*The number of </tspan><tspan font-style="italic" x="1228.37 1250.26 1268.51 1275.80 1303.14 1321.39 1339.64 1357.90 1365.19 1372.48">Salmonella</tspan><tspan x="1390.73 1399.85 1421.74 1439.99 1449.11 1467.36 1478.29 1485.58 1494.70 1501.99 1520.25 1527.54 1543.95 1553.06 1569.47 1578.59 1589.52 1607.77 1615.07 1633.32 1649.73 1658.85 1666.14 1684.39 1693.51 1711.76 1730.01 1748.26 1766.52 1775.64 1782.93 1799.34 1808.45 1826.71 1844.96 1852.25 1868.66 1877.78"> Enteritidis strains in 2018 is only 2</tspan></text>
<rect x="349.90" y="2533.10" width="1757.10" height="48.50" fill="#6883a3"/>
<text transform="scale(0.8800 1)" y="2569.10" font-size="34.70" fill="#ffffff" stroke="#6883a3" stroke-width="0.40"><tspan x="852.61 877.32 889.66 910.27 928.80 949.41 957.64 978.25 998.85 1017.38 1037.99 1048.28 1068.89 1079.19 1089.48 1120.35 1140.96 1151.25 1171.86 1180.09 1198.62 1206.85 1215.08 1223.32 1231.55 1252.16 1264.50 1276.84 1297.44 1315.97 1324.20 1342.73 1353.03 1373.63 1394.24 1404.54">Prevalence of methicillin-resistant </tspan><tspan font-style="italic" x="1414.83 1439.55 1449.84 1470.45 1491.06 1511.66 1530.19 1538.42 1559.03 1577.56 1598.17 1616.69 1635.22 1655.83 1674.36 1684.65 1705.26 1725.87 1738.21 1758.82 1779.42">Staphylococcus aureus</tspan><tspan x="1797.95 1808.25 1820.59 1851.45 1878.21 1902.93 1927.64"> (MRSA)</tspan></text>
<rect x="350.5" y="2605.8" width="700.3" height="467.8" fill="none" stroke="#8d9fb1" stroke-width="1.6"/>
<rect x="1075" y="2606" width="1030.7" height="467" fill="none" stroke="#8d9fb1" stroke-width="1.6"/>
<text transform="scale(0.8600 1)" y="2670.72" font-size="30.50" fill="#737375" stroke="#ffffff" stroke-width="0.40"><tspan x="422.38 439.34 456.31 473.27">100%</tspan></text>
<text transform="scale(0.8600 1)" y="2716.46" font-size="30.50" fill="#737375" stroke="#ffffff" stroke-width="0.40"><tspan x="439.34 456.31 473.27">80%</tspan></text>
<text transform="scale(0.8600 1)" y="2762.20" font-size="30.50" fill="#737375" stroke="#ffffff" stroke-width="0.40"><tspan x="439.34 456.31 473.27">60%</tspan></text>
<text transform="scale(0.8600 1)" y="2807.94" font-size="30.50" fill="#737375" stroke="#ffffff" stroke-width="0.40"><tspan x="439.34 456.31 473.27">40%</tspan></text>
<text transform="scale(0.8600 1)" y="2853.68" font-size="30.50" fill="#737375" stroke="#ffffff" stroke-width="0.40"><tspan x="439.34 456.31 473.27">20%</tspan></text>
<text transform="scale(0.8600 1)" y="2899.42" font-size="30.50" fill="#737375" stroke="#ffffff" stroke-width="0.40"><tspan x="456.31 473.27">0%</tspan></text>
<text transform="scale(0.8600 1)" y="2673.32" font-size="30.50" fill="#737375" stroke="#ffffff" stroke-width="0.40"><tspan x="1281.21 1298.17 1315.13">40%</tspan></text>
<text transform="scale(0.8600 1)" y="2785.72" font-size="30.50" fill="#737375" stroke="#ffffff" stroke-width="0.40"><tspan x="1281.21 1298.17 1315.13">20%</tspan></text>
<text transform="scale(0.8600 1)" y="2898.02" font-size="30.50" fill="#737375" stroke="#ffffff" stroke-width="0.40"><tspan x="1298.17 1315.13">0%</tspan></text>
<rect x="462.60" y="2905.10" width="239.90" height="143.30" fill="#e6eaf2"/>
<rect x="736.70" y="2905.10" width="255.00" height="143.30" fill="#fce4f0"/>
<rect x="1180.20" y="2904.50" width="256.00" height="144.30" fill="#fdf6e4"/>
<rect x="1472.10" y="2904.50" width="259.30" height="144.30" fill="#fdf6e4"/>
<rect x="1766.70" y="2904.50" width="305.00" height="168.50" fill="#ececec"/>
<rect x="483.90" y="2789.10" width="30.90" height="106.90" fill="#2e87c2"/>
<rect x="560.10" y="2720.30" width="31.00" height="175.70" fill="#2e87c2"/>
<rect x="635.90" y="2773.40" width="31.40" height="122.60" fill="#2e87c2"/>
<rect x="768.10" y="2748.00" width="30.90" height="148.00" fill="#fdc400"/>
<rect x="844.30" y="2757.70" width="31.00" height="138.30" fill="#fdc400"/>
<rect x="920.60" y="2777.10" width="31.40" height="118.90" fill="#fdc400"/>
<rect x="1207.00" y="2834.60" width="30.60" height="60.90" fill="#9dc41d"/>
<rect x="1283.40" y="2803.30" width="30.70" height="92.20" fill="#9dc41d"/>
<rect x="1359.10" y="2847.00" width="30.70" height="48.50" fill="#9dc41d"/>
<rect x="1500.90" y="2835.30" width="30.70" height="60.20" fill="#ef8900"/>
<rect x="1577.90" y="2831.30" width="30.70" height="64.20" fill="#ef8900"/>
<rect x="1653.00" y="2809.80" width="30.70" height="85.70" fill="#ef8900"/>
<rect x="1802.60" y="2891.40" width="30.70" height="5.20" fill="#ef8900"/>
<rect x="1878.40" y="2882.90" width="30.70" height="13.70" fill="#ef8900"/>
<rect x="1952.20" y="2887.50" width="30.70" height="9.10" fill="#ef8900"/>
<rect x="2026.60" y="2882.90" width="30.70" height="13.70" fill="#ef8900"/>
<line x1="499.10" y1="2764.60" x2="499.10" y2="2821.00" stroke="#9a9a9a" stroke-width="2.30"/>
<line x1="494.10" y1="2764.60" x2="504.10" y2="2764.60" stroke="#9a9a9a" stroke-width="2.30"/>
<line x1="494.10" y1="2821.00" x2="504.10" y2="2821.00" stroke="#9a9a9a" stroke-width="2.30"/>
<line x1="575.40" y1="2690.70" x2="575.40" y2="2732.70" stroke="#9a9a9a" stroke-width="2.30"/>
<line x1="570.40" y1="2690.70" x2="580.40" y2="2690.70" stroke="#9a9a9a" stroke-width="2.30"/>
<line x1="570.40" y1="2732.70" x2="580.40" y2="2732.70" stroke="#9a9a9a" stroke-width="2.30"/>
<line x1="651.60" y1="2749.40" x2="651.60" y2="2790.50" stroke="#9a9a9a" stroke-width="2.30"/>
<line x1="646.60" y1="2749.40" x2="656.60" y2="2749.40" stroke="#9a9a9a" stroke-width="2.30"/>
<line x1="646.60" y1="2790.50" x2="656.60" y2="2790.50" stroke="#9a9a9a" stroke-width="2.30"/>
<line x1="783.80" y1="2730.00" x2="783.80" y2="2763.70" stroke="#9a9a9a" stroke-width="2.30"/>
<line x1="778.80" y1="2730.00" x2="788.80" y2="2730.00" stroke="#9a9a9a" stroke-width="2.30"/>
<line x1="778.80" y1="2763.70" x2="788.80" y2="2763.70" stroke="#9a9a9a" stroke-width="2.30"/>
<line x1="859.60" y1="2739.20" x2="859.60" y2="2773.40" stroke="#9a9a9a" stroke-width="2.30"/>
<line x1="854.60" y1="2739.20" x2="864.60" y2="2739.20" stroke="#9a9a9a" stroke-width="2.30"/>
<line x1="854.60" y1="2773.40" x2="864.60" y2="2773.40" stroke="#9a9a9a" stroke-width="2.30"/>
<line x1="936.30" y1="2760.50" x2="936.30" y2="2794.70" stroke="#9a9a9a" stroke-width="2.30"/>
<line x1="931.30" y1="2760.50" x2="941.30" y2="2760.50" stroke="#9a9a9a" stroke-width="2.30"/>
<line x1="931.30" y1="2794.70" x2="941.30" y2="2794.70" stroke="#9a9a9a" stroke-width="2.30"/>
<line x1="1222.00" y1="2778.40" x2="1222.00" y2="2890.80" stroke="#9a9a9a" stroke-width="2.30"/>
<line x1="1217.00" y1="2778.40" x2="1227.00" y2="2778.40" stroke="#9a9a9a" stroke-width="2.30"/>
<line x1="1217.00" y1="2890.80" x2="1227.00" y2="2890.80" stroke="#9a9a9a" stroke-width="2.30"/>
<line x1="1298.40" y1="2767.30" x2="1298.40" y2="2837.90" stroke="#9a9a9a" stroke-width="2.30"/>
<line x1="1293.40" y1="2767.30" x2="1303.40" y2="2767.30" stroke="#9a9a9a" stroke-width="2.30"/>
<line x1="1293.40" y1="2837.90" x2="1303.40" y2="2837.90" stroke="#9a9a9a" stroke-width="2.30"/>
<line x1="1374.20" y1="2794.80" x2="1374.20" y2="2892.70" stroke="#9a9a9a" stroke-width="2.30"/>
<line x1="1369.20" y1="2794.80" x2="1379.20" y2="2794.80" stroke="#9a9a9a" stroke-width="2.30"/>
<line x1="1369.20" y1="2892.70" x2="1379.20" y2="2892.70" stroke="#9a9a9a" stroke-width="2.30"/>
<line x1="1515.90" y1="2801.30" x2="1515.90" y2="2866.60" stroke="#9a9a9a" stroke-width="2.30"/>
<line x1="1510.90" y1="2801.30" x2="1520.90" y2="2801.30" stroke="#9a9a9a" stroke-width="2.30"/>
<line x1="1510.90" y1="2866.60" x2="1520.90" y2="2866.60" stroke="#9a9a9a" stroke-width="2.30"/>
<line x1="1593.60" y1="2800.60" x2="1593.60" y2="2861.40" stroke="#9a9a9a" stroke-width="2.30"/>
<line x1="1588.60" y1="2800.60" x2="1598.60" y2="2800.60" stroke="#9a9a9a" stroke-width="2.30"/>
<line x1="1588.60" y1="2861.40" x2="1598.60" y2="2861.40" stroke="#9a9a9a" stroke-width="2.30"/>
<line x1="1668.00" y1="2778.40" x2="1668.00" y2="2842.40" stroke="#9a9a9a" stroke-width="2.30"/>
<line x1="1663.00" y1="2778.40" x2="1673.00" y2="2778.40" stroke="#9a9a9a" stroke-width="2.30"/>
<line x1="1663.00" y1="2842.40" x2="1673.00" y2="2842.40" stroke="#9a9a9a" stroke-width="2.30"/>
<line x1="1817.60" y1="2863.30" x2="1817.60" y2="2893.00" stroke="#9a9a9a" stroke-width="2.30"/>
<line x1="1812.60" y1="2863.30" x2="1822.60" y2="2863.30" stroke="#9a9a9a" stroke-width="2.30"/>
<line x1="1812.60" y1="2893.00" x2="1822.60" y2="2893.00" stroke="#9a9a9a" stroke-width="2.30"/>
<line x1="1892.10" y1="2843.70" x2="1892.10" y2="2893.00" stroke="#9a9a9a" stroke-width="2.30"/>
<line x1="1887.10" y1="2843.70" x2="1897.10" y2="2843.70" stroke="#9a9a9a" stroke-width="2.30"/>
<line x1="1887.10" y1="2893.00" x2="1897.10" y2="2893.00" stroke="#9a9a9a" stroke-width="2.30"/>
<line x1="1964.60" y1="2864.60" x2="1964.60" y2="2893.00" stroke="#9a9a9a" stroke-width="2.30"/>
<line x1="1959.60" y1="2864.60" x2="1969.60" y2="2864.60" stroke="#9a9a9a" stroke-width="2.30"/>
<line x1="1959.60" y1="2893.00" x2="1969.60" y2="2893.00" stroke="#9a9a9a" stroke-width="2.30"/>
<line x1="2041.70" y1="2857.50" x2="2041.70" y2="2893.00" stroke="#9a9a9a" stroke-width="2.30"/>
<line x1="2036.70" y1="2857.50" x2="2046.70" y2="2857.50" stroke="#9a9a9a" stroke-width="2.30"/>
<line x1="2036.70" y1="2893.00" x2="2046.70" y2="2893.00" stroke="#9a9a9a" stroke-width="2.30"/>
<text transform="translate(505.23 2975.30) rotate(-90) scale(0.8800 1)" y="0.00" font-size="25.60" fill="#737375" stroke="#e6eaf2" stroke-width="0.40"><tspan x="-1.29 14.07 29.42 44.78">2012</tspan></text>
<text transform="translate(580.03 2975.30) rotate(-90) scale(0.8800 1)" y="0.00" font-size="25.60" fill="#737375" stroke="#e6eaf2" stroke-width="0.40"><tspan x="-1.29 14.00 29.28 44.56">2015</tspan></text>
<text transform="translate(655.33 2975.30) rotate(-90) scale(0.8800 1)" y="0.00" font-size="25.60" fill="#737375" stroke="#e6eaf2" stroke-width="0.40"><tspan x="-1.29 14.01 29.31 44.60">2018</tspan></text>
<text transform="translate(791.73 2975.30) rotate(-90) scale(0.8800 1)" y="0.00" font-size="25.60" fill="#737375" stroke="#fce4f0" stroke-width="0.40"><tspan x="-1.29 14.01 29.31 44.61">2013</tspan></text>
<text transform="translate(867.03 2975.30) rotate(-90) scale(0.8800 1)" y="0.00" font-size="25.60" fill="#737375" stroke="#fce4f0" stroke-width="0.40"><tspan x="-1.29 14.01 29.31 44.61">2016</tspan></text>
<text transform="translate(941.83 2975.30) rotate(-90) scale(0.8800 1)" y="0.00" font-size="25.60" fill="#737375" stroke="#fce4f0" stroke-width="0.40"><tspan x="-1.29 14.04 29.37 44.70">2019</tspan></text>
<text transform="translate(1230.83 2975.00) rotate(-90) scale(0.8800 1)" y="0.00" font-size="25.60" fill="#737375" stroke="#fdf6e4" stroke-width="0.40"><tspan x="-1.29 13.57 28.44 43.30">2012</tspan></text>
<text transform="translate(1305.23 2975.00) rotate(-90) scale(0.8800 1)" y="0.00" font-size="25.60" fill="#737375" stroke="#fdf6e4" stroke-width="0.40"><tspan x="-1.29 13.50 28.30 43.09">2015</tspan></text>
<text transform="translate(1380.33 2975.00) rotate(-90) scale(0.8800 1)" y="0.00" font-size="25.60" fill="#737375" stroke="#fdf6e4" stroke-width="0.40"><tspan x="-1.29 13.52 28.32 43.12">2018</tspan></text>
<text transform="translate(1525.33 2975.00) rotate(-90) scale(0.8800 1)" y="0.00" font-size="25.60" fill="#737375" stroke="#fdf6e4" stroke-width="0.40"><tspan x="-1.29 13.57 28.44 43.30">2012</tspan></text>
<text transform="translate(1600.43 2975.00) rotate(-90) scale(0.8800 1)" y="0.00" font-size="25.60" fill="#737375" stroke="#fdf6e4" stroke-width="0.40"><tspan x="-1.29 13.50 28.30 43.09">2015</tspan></text>
<text transform="translate(1675.63 2975.00) rotate(-90) scale(0.8800 1)" y="0.00" font-size="25.60" fill="#737375" stroke="#fdf6e4" stroke-width="0.40"><tspan x="-1.29 13.52 28.32 43.12">2018</tspan></text>
<text transform="translate(1823.83 2975.00) rotate(-90) scale(0.8800 1)" y="0.00" font-size="25.60" fill="#737375" stroke="#ececec" stroke-width="0.40"><tspan x="-1.29 13.56 28.41 43.26">2011</tspan></text>
<text transform="translate(1898.33 2975.00) rotate(-90) scale(0.8800 1)" y="0.00" font-size="25.60" fill="#737375" stroke="#ececec" stroke-width="0.40"><tspan x="-1.29 13.40 28.08 42.76">2014</tspan></text>
<text transform="translate(1973.43 2975.00) rotate(-90) scale(0.8800 1)" y="0.00" font-size="25.60" fill="#737375" stroke="#ececec" stroke-width="0.40"><tspan x="-1.29 13.57 28.44 43.30">2017</tspan></text>
<text transform="translate(2048.53 2975.00) rotate(-90) scale(0.8800 1)" y="0.00" font-size="25.60" fill="#737375" stroke="#ececec" stroke-width="0.40"><tspan x="-1.29 13.48 28.25 43.01">2020</tspan></text>
<text transform="scale(0.9200 1)" y="3027.60" font-size="32.00" fill="#6b7f99" stroke="#6b7f99" stroke-width="1.00" stroke-linejoin="round"><tspan x="540.98 558.96 578.96 598.97 606.96 616.95 634.94 654.94 662.93 680.91 700.92">veal calves</tspan></text>
<text transform="scale(0.9200 1)" y="3027.60" font-size="32.00" fill="#df5aa0" stroke="#df5aa0" stroke-width="1.00" stroke-linejoin="round"><tspan x="903.70 925.10 933.65 955.05">pigs</tspan></text>
<text transform="scale(0.9200 1)" y="3027.90" font-size="32.00" fill="#6b7f99" stroke="#6b7f99" stroke-width="1.00" stroke-linejoin="round"><tspan x="1333.81 1354.95 1376.09 1397.24 1407.80 1418.36 1437.37 1458.51 1469.07 1479.64 1488.08">beef cattle</tspan></text>
<text transform="scale(0.9200 1)" y="3027.90" font-size="32.00" fill="#6b7f99" stroke="#6b7f99" stroke-width="1.00" stroke-linejoin="round"><tspan x="1650.40 1671.74 1693.08 1701.60 1714.38 1733.57 1744.23 1763.41 1784.76 1795.42 1806.08 1814.60">dairy cattle</tspan></text>
<text transform="scale(0.9200 1)" y="3024.50" font-size="32.00" fill="#6d6e70" stroke="#6d6e70" stroke-width="1.00" stroke-linejoin="round"><tspan x="1986.96 2008.36 2021.18 2042.59 2051.14 2059.69 2081.09 2093.91 2113.15 2123.85 2145.25 2166.66">broilers and</tspan></text>
<text transform="scale(0.9200 1)" y="3053.50" font-size="32.00" fill="#6d6e70" stroke="#6d6e70" stroke-width="1.00" stroke-linejoin="round"><tspan x="1992.41 2000.66 2021.32 2039.90 2048.15 2068.82 2089.48 2099.80 2120.46 2141.12 2161.79">laying hens</tspan></text>
<text transform="scale(0.8800 1)" y="3134.70" font-size="29.50" fill="#1f1f1f" stroke="#ffffff" stroke-width="0.40"><tspan x="544.28 571.98 595.99 618.16 640.34 649.58 668.07 679.14 697.63 706.86 717.94 736.43 753.05 760.44 777.06 786.30 804.79 823.28 832.51 841.75 850.99 869.48 878.71 897.20 904.59 932.28 950.77 967.40 976.63 985.87 1004.36 1011.75 1019.13 1028.37 1048.68 1059.75 1067.14 1085.63 1102.25 1111.49 1129.98 1157.67 1166.91 1185.40 1203.89 1213.13 1220.51 1239.00 1246.39 1264.88 1274.12 1281.50 1298.13 1314.75 1323.99 1342.48 1360.97 1379.46 1388.69 1407.18 1418.25 1436.74 1445.98 1464.47 1473.71 1482.95 1501.44 1519.93 1529.16 1547.65 1566.14 1575.38 1584.62 1601.24 1619.73 1636.35 1652.98 1671.47 1689.96 1699.19 1706.58 1725.07 1732.46 1750.95 1760.18 1769.42 1787.91 1797.15 1824.84 1843.33 1861.82 1878.45 1887.68 1906.17 1915.41 1933.90 1952.39 1963.46 1972.70 1989.32 1996.71 2015.20 2031.82 2048.44 2066.93 2083.56 2092.79 2111.28 2120.52 2129.76 2148.25 2166.74 2175.98 2183.36 2201.85 2209.24 2227.73 2236.97 2244.35 2260.98">MRSA are resistant to almost all ß-lactam antibiotics and are often not susceptible to many other classes of antibiotics</tspan></text>
<rect x="0.00" y="3437.00" width="2480.00" height="71.00" fill="#93c020"/>
<path d="M324.86 3336.72 L324.72 3334.02 L324.75 3331.35 L324.95 3328.69 L325.32 3326.07 L325.85 3323.48 L326.54 3320.94 L327.40 3318.45 L328.40 3316.02 L329.55 3313.67 L330.85 3311.40 L332.28 3309.21 L333.85 3307.12 L335.54 3305.13 L337.34 3303.25 L339.26 3301.48 L341.28 3299.83 L343.40 3298.30 L345.60 3296.90 L347.89 3295.64 L350.24 3294.51 L352.58 3293.36 L354.99 3292.35 L357.47 3291.48 L359.99 3290.75 L362.56 3290.17 L365.16 3289.74 L367.79 3289.45 L370.43 3289.31 L373.07 3289.33 L375.71 3289.49 L378.33 3289.81 L380.93 3290.27 L383.49 3290.88 L386.00 3291.64 L388.47 3292.53 L390.87 3293.57 L393.19 3294.74 L395.44 3296.04 L397.60 3297.46 L399.63 3298.97 L400.98 3300.14 L401.78 3301.37 L402.23 3302.76 L402.31 3304.22 L402.01 3305.66 L401.35 3306.96 L400.37 3308.05 L399.15 3308.86 L397.75 3309.31 L396.29 3309.39 L394.86 3309.09 L393.43 3308.35 L392.12 3307.16 L390.24 3305.75 L388.25 3304.48 L386.16 3303.34 L383.98 3302.36 L381.73 3301.53 L379.41 3300.85 L377.04 3300.34 L374.63 3299.99 L372.20 3299.81 L369.74 3299.79 L367.29 3299.95 L364.84 3300.28 L362.42 3300.77 L360.04 3301.43 L357.70 3302.26 L355.43 3303.25 L353.22 3304.39 L351.11 3305.69 L349.09 3307.13 L347.18 3308.71 L345.40 3310.43 L343.74 3312.27 L342.23 3314.23 L340.87 3316.29 L339.67 3318.45 L338.64 3320.69 L337.79 3323.01 L337.12 3325.38 L336.64 3327.80 L336.36 3330.25 L336.27 3332.72 L336.38 3335.19 L336.68 3337.64 L337.18 3340.08 L337.88 3342.47 L338.76 3344.81 L339.82 3347.09 L341.05 3349.28 L342.45 3351.39 L344.00 3353.40 L345.70 3355.29 L347.54 3357.07 L349.67 3358.50 L351.92 3359.73 L354.24 3360.78 L356.62 3361.66 L359.03 3362.38 L361.48 3362.92 L363.94 3363.28 L366.39 3363.48 L368.84 3363.50 L371.26 3363.35 L373.65 3363.04 L375.98 3362.57 L378.26 3361.94 L380.46 3361.15 L382.57 3360.23 L384.58 3359.16 L386.48 3357.97 L386.16 3357.24 L384.05 3357.80 L381.93 3358.19 L379.81 3358.43 L377.69 3358.52 L375.59 3358.45 L373.53 3358.24 L371.50 3357.89 L369.53 3357.40 L367.61 3356.79 L365.77 3356.05 L364.01 3355.19 L362.34 3354.22 L360.77 3353.16 L359.30 3352.00 L357.95 3350.76 L356.72 3349.46 L355.57 3348.15 L354.34 3346.96 L353.22 3345.71 L352.20 3344.40 L351.29 3343.02 L350.50 3341.61 L349.81 3340.15 L349.25 3338.66 L348.80 3337.16 L348.46 3335.63 L348.25 3334.10 L348.15 3332.56 L348.17 3331.03 L348.30 3329.50 L348.56 3327.97 L348.93 3326.45 L349.41 3324.95 L350.02 3323.47 L350.73 3322.03 L351.57 3320.62 L352.50 3319.27 L353.55 3317.97 L354.70 3316.74 L355.94 3315.57 L357.28 3314.48 L358.70 3313.48 L360.19 3312.57 L361.76 3311.76 L363.39 3311.05 L365.07 3310.45 L366.80 3309.96 L368.56 3309.59 L370.34 3309.33 L372.14 3309.20 L373.95 3309.18 L375.76 3309.29 L377.55 3309.52 L379.31 3309.88 L381.05 3310.35 L382.74 3310.94 L384.38 3311.65 L385.97 3312.47 L387.48 3313.41 L389.38 3314.78 L392.34 3316.26 L395.71 3316.97 L399.15 3316.78 L402.43 3315.71 L405.32 3313.82 L407.62 3311.26 L409.18 3308.18 L409.89 3304.80 L409.70 3301.36 L408.63 3298.08 L406.75 3295.19 L404.43 3293.08 L401.97 3291.24 L399.44 3289.57 L396.80 3288.05 L394.08 3286.68 L391.27 3285.47 L388.40 3284.42 L385.46 3283.54 L382.47 3282.83 L379.45 3282.29 L376.40 3281.92 L373.33 3281.73 L370.25 3281.71 L367.18 3281.87 L364.12 3282.21 L361.09 3282.71 L358.10 3283.39 L355.15 3284.24 L352.27 3285.26 L349.45 3286.44 L346.70 3287.78 L344.14 3289.42 L341.69 3291.19 L339.36 3293.10 L337.17 3295.14 L335.11 3297.29 L333.20 3299.54 L331.44 3301.89 L329.84 3304.33 L328.40 3306.85 L327.13 3309.44 L326.03 3312.09 L325.10 3314.79 L324.35 3317.52 L323.78 3320.28 L323.39 3323.05 L323.17 3325.84 L323.13 3328.62 L323.27 3331.38 L323.58 3334.12 L324.06 3336.81Z" fill="#b5173f"/>
<circle cx="372.50" cy="3334.00" r="11.10" fill="#4f8a2e"/>
<text transform="scale(0.8296 1)" y="3340.60" font-size="18.80" fill="#5b8c3c"><tspan x="478.98 484.20 494.66 505.11 515.57 521.83 532.28 536.46 541.68 552.14 562.59 573.05 577.23 581.40 590.80 596.03 605.43 615.88 622.14 631.54 635.72 645.12">federal public service</tspan></text>
<text transform="scale(0.8185 1)" y="3366.50" font-size="15.60" fill="#4a7a2b"><tspan font-weight="bold" x="483.98 495.24 505.65 516.91 526.44 535.97 547.24 551.57 555.91 565.44 577.57 589.70 600.97 605.30 616.57 627.84 639.10 643.44 654.70 659.04 669.44 680.71 690.24 700.64 710.17">HEALTH, FOOD CHAIN SAFETY</tspan></text>
<text transform="scale(0.8662 1)" y="3386.10" font-size="15.60" fill="#4a7a2b"><tspan font-weight="bold" x="457.92 469.19 480.45 491.72 496.05 506.46 517.72 528.13 532.46 543.73 555.86 567.13 580.12 590.53 601.79">AND ENVIRONMENT</tspan></text>
<text transform="scale(0.8470 1)" y="3365.70" font-size="76.00" fill="#6c9bd2" stroke="#6c9bd2" stroke-width="1.6"><tspan x="812.12 833.24 875.50 938.81 981.08">famhp</tspan></text>
<rect x="834.00" y="3366.00" width="7.70" height="18.40" fill="#6c9bd2"/>
<text transform="scale(0.6957 1)" y="3383.50" font-size="11.50" fill="#5b82bb" stroke="#5b82bb" stroke-width="0.3"><tspan x="1101.85 1105.04 1111.44 1117.83 1124.23 1128.06 1134.45 1137.01 1140.20 1146.60 1153.00 1159.39 1165.79 1171.54 1177.29 1180.48 1183.68 1190.07">federal agency for</tspan></text>
<text transform="scale(0.7131 1)" y="3383.50" font-size="11.50" fill="#5b82bb" stroke="#5b82bb" stroke-width="0.3"><tspan x="1181.32 1190.90 1197.29 1203.69 1206.24 1211.99 1214.55 1220.94 1227.34 1233.09 1236.29 1242.68 1249.08 1255.47 1258.67 1265.06 1271.46 1277.85 1280.41 1283.60 1290.00 1293.20 1299.59 1303.42 1309.82 1316.21 1322.61 1328.36 1331.55">medicines and health products</tspan></text>
<path d="M874.26 3294.35 A28.00 28.00 0 0 1 914.54 3294.35 L907.20 3301.44 A17.80 17.80 0 0 0 881.60 3301.44Z" fill="#b9b9b9"/>
<path d="M914.54 3333.25 A28.00 28.00 0 0 1 874.26 3333.25 L881.60 3326.16 A17.80 17.80 0 0 0 907.20 3326.16Z" fill="#b9b9b9"/>
<defs><radialGradient id="eyeg" cx="0.45" cy="0.35" r="0.7"><stop offset="0" stop-color="#c9d8ee"/><stop offset="1" stop-color="#7ea4d6"/></radialGradient><radialGradient id="fasg" cx="0.45" cy="0.4" r="0.6"><stop offset="0" stop-color="#9a9ed6"/><stop offset="1" stop-color="#4450a8"/></radialGradient><linearGradient id="leafg" x1="0" y1="1" x2="1" y2="0"><stop offset="0" stop-color="#1f8a3a"/><stop offset="0.6" stop-color="#58ab3a"/><stop offset="1" stop-color="#c2d84a"/></linearGradient></defs>
<circle cx="894.40" cy="3313.80" r="12.00" fill="url(#eyeg)"/>
<circle cx="893.80" cy="3309.80" r="3.20" fill="#ffffff"/>
<circle cx="888.30" cy="3318.30" r="1.60" fill="#ffffff"/>
<defs><linearGradient id="leafg2" gradientUnits="userSpaceOnUse" x1="1083" y1="3360" x2="1185" y2="3320"><stop offset="0" stop-color="#178a3a"/><stop offset="0.45" stop-color="#3fa23a"/><stop offset="0.75" stop-color="#8cc23c"/><stop offset="1" stop-color="#c4d944"/></linearGradient></defs>
<path d="M1136.4 3333.7 C1125 3326 1108 3320.5 1092 3323.8 C1086.5 3325.5 1083.5 3328.5 1085 3331 C1089 3335 1095 3338 1099.4 3339.2" fill="none" stroke="url(#leafg2)" stroke-width="2.6" stroke-linecap="round"/>
<path d="M1136.4 3333.7 C1125 3333 1110 3334.5 1099.4 3339.2" fill="none" stroke="url(#leafg2)" stroke-width="1.4"/>
<path d="M1099.4 3339.2 C1092 3345 1085 3354 1083.1 3362 C1095 3366.5 1115 3364.5 1127 3355.5 C1137 3347 1143 3336 1150 3327 C1155 3321 1162 3318 1171 3318" fill="none" stroke="url(#leafg2)" stroke-width="3.0" stroke-linecap="round"/>
<path d="M1171 3318 C1177 3318 1182.5 3320 1184.4 3323.7 C1180 3328.5 1170 3334 1156.3 3334.4" fill="none" stroke="url(#leafg2)" stroke-width="2.4" stroke-linecap="round"/>
<path d="M1113.4 3366.2 C1128 3362 1140 3350 1147.5 3338 C1152.5 3328 1156 3321.5 1160.8 3318.9" fill="none" stroke="url(#leafg2)" stroke-width="1.1"/>
<text transform="scale(0.6458 1)" y="3372.50" font-size="38.00" fill="#707070"><tspan x="1783.63">s</tspan></text>
<text transform="scale(0.6836 1)" y="3372.50" font-size="38.00" fill="#707070"><tspan x="1711.22">c</tspan></text>
<text transform="scale(0.7785 1)" y="3372.50" font-size="38.00" fill="#707070"><tspan x="1534.81">i</tspan></text>
<text transform="scale(0.6786 1)" y="3372.50" font-size="38.00" fill="#707070"><tspan x="1778.54">e</tspan></text>
<text transform="scale(0.6938 1)" y="3372.50" font-size="38.00" fill="#707070"><tspan x="1769.70">n</tspan></text>
<text transform="scale(0.5647 1)" y="3372.50" font-size="38.00" fill="#555555"><tspan font-weight="bold" x="2224.92">s</tspan></text>
<text transform="scale(0.5528 1)" y="3372.50" font-size="38.00" fill="#555555"><tspan font-weight="bold" x="2313.79">a</tspan></text>
<text transform="scale(0.6103 1)" y="3372.50" font-size="38.00" fill="#555555"><tspan font-weight="bold" x="2130.75">n</tspan></text>
<text transform="scale(0.6817 1)" y="3372.50" font-size="38.00" fill="#555555"><tspan font-weight="bold" x="1946.41">o</tspan></text>
<circle cx="1568.60" cy="3338.80" r="53.50" fill="#3a46a0"/>
<circle cx="1568.60" cy="3338.80" r="51.00" fill="url(#fasg)"/>
<circle cx="1568.60" cy="3338.80" r="46.50" fill="none" stroke="#ffffff" stroke-width="2.20"/>
<line x1="1556.60" y1="3313.50" x2="1570.40" y2="3326.10" stroke="#ffffff" stroke-width="4.40" stroke-linecap="round"/>
<line x1="1549.20" y1="3320.90" x2="1595.70" y2="3366.60" stroke="#ffffff" stroke-width="4.40" stroke-linecap="round"/>
<line x1="1542.30" y1="3326.90" x2="1556.90" y2="3340.70" stroke="#ffffff" stroke-width="4.40" stroke-linecap="round"/>
<text transform="scale(0.8800 1)" y="3323.60" font-size="15.10" fill="#1a1a1a"><tspan x="1870.35 1880.04 1888.86 1897.68 1906.50 1911.78 1920.60 1924.13 1928.53 1939.11 1947.93 1956.75 1965.57 1973.50">Federal Agency</tspan></text>
<text transform="scale(0.8800 1)" y="3343.90" font-size="15.10" fill="#1a1a1a"><tspan x="1871.38 1875.80 1884.65 1889.94 1894.36 1898.78 1907.63 1916.48 1920.90 1931.51 1940.36 1944.78 1953.63 1958.05">for the Safety</tspan></text>
<text transform="scale(0.8800 1)" y="3364.50" font-size="15.10" fill="#1a1a1a"><tspan x="1870.96 1879.91 1884.38 1888.85 1893.33 1902.28 1911.23 1915.70 1925.53 1934.49 1943.44 1952.39 1956.86 1968.49 1977.44 1986.39 1989.97">of the Food Chain</tspan></text>
<circle cx="2041.90" cy="3295.90" r="24.00" fill="none" stroke="#777777" stroke-width="1.20"/>
<circle cx="2041.90" cy="3295.90" r="21.80" fill="none" stroke="#777777" stroke-width="0.80"/>
<circle cx="2037.50" cy="3291.70" r="8.00" fill="none" stroke="#8dc63f" stroke-width="1.40"/>
<circle cx="2037.50" cy="3291.70" r="2.60" fill="#8dc63f"/>
<circle cx="2050.10" cy="3306.10" r="6.70" fill="#6d6d6d"/>
<circle cx="2050.10" cy="3306.10" r="3.40" fill="none" stroke="#ffffff" stroke-width="1.20"/>
<line x1="1932.10" y1="3315.50" x2="2016.20" y2="3315.50" stroke="#777777" stroke-width="1.50"/>
<line x1="2069.10" y1="3315.50" x2="2151.60" y2="3315.50" stroke="#777777" stroke-width="1.50"/>
<line x1="1932.20" y1="3383.80" x2="2151.60" y2="3383.80" stroke="#777777" stroke-width="1.50"/>
<path d="M1935.5 3372.6 L1935.5 3340.5 A14.5 14.3 0 0 1 1964.5 3340.5 L1964.5 3372.6 M1935.5 3353.4 L1964.5 3353.4" fill="none" stroke="#8dc63f" stroke-width="3.6" stroke-linecap="round"/>
<path d="M1971.7 3372.6 L1971.7 3341 A15.95 14.8 0 0 1 2003.6 3341 L2003.6 3372.6 M2003.6 3341 A18.15 14.8 0 0 1 2039.9 3341" fill="none" stroke="#8dc63f" stroke-width="3.6" stroke-linecap="round"/>
<path d="M2074.3 3333.8 A20.5 23.5 0 1 0 2074.3 3365.2" fill="none" stroke="#8dc63f" stroke-width="3.6" stroke-linecap="round"/>
<path d="M2078.8 3372.6 L2078.8 3326.2 L2096 3326.2 A15.4 14 0 0 1 2096 3354.2 L2078.8 3354.2 M2094 3354.2 L2111.5 3372.6" fill="none" stroke="#8dc63f" stroke-width="3.6" stroke-linecap="round"/>
<path d="M2118.7 3372.6 L2118.7 3340.5 A15.2 14.3 0 0 1 2149.1 3340.5 L2149.1 3372.6 M2118.7 3353.4 L2149.1 3353.4" fill="none" stroke="#8dc63f" stroke-width="3.6" stroke-linecap="round"/>
<text transform="scale(0.8800 1)" y="3395.40" font-size="10.60" fill="#666666"><tspan x="2195.61 2198.96 2209.01 2217.05 2225.76 2235.14 2243.18 2251.22 2254.57 2263.28 2271.32 2279.37 2286.07 2293.44">IMPROVE HEALTH</tspan></text>
<circle cx="2031.40" cy="3391.70" r="1.50" fill="#8dc63f"/>
<text transform="scale(0.8800 1)" y="3395.40" font-size="10.60" fill="#666666"><tspan x="2316.63 2325.23 2333.17 2341.77 2350.38 2358.98 2366.92 2370.23 2378.83 2386.77 2394.71 2398.02 2405.97 2413.24 2421.18 2429.78 2438.39">REDUCE RESISTANCE</tspan></text>
</svg>
</body></html>
